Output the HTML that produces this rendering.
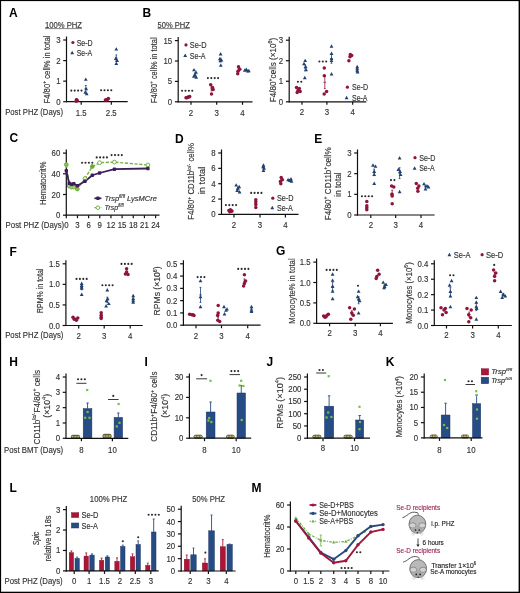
<!DOCTYPE html>
<html><head><meta charset="utf-8"><title>Figure</title>
<style>
html,body{margin:0;padding:0;background:#fff;width:520px;height:593px;overflow:hidden}
svg{display:block;font-family:"Liberation Sans",sans-serif;will-change:transform}
text{stroke:currentColor;stroke-width:0.15px}
text.L{stroke:none}
</style></head><body>
<svg width="520" height="593" viewBox="0 0 520 593">
<rect width="520" height="593" fill="#fff"/>
<text x="9" y="17" font-size="12" font-weight="bold" fill="#000" class="L">A</text>
<text x="45" y="24.6" font-size="8.5" text-anchor="start" dominant-baseline="central" fill="#333" color="#333" textLength="37" lengthAdjust="spacingAndGlyphs">100% PHZ</text>
<line x1="45" y1="28.6" x2="82" y2="28.6" stroke="#333" stroke-width="0.6" />
<line x1="66.5" y1="36.5" x2="66.5" y2="102.2" stroke="#111" stroke-width="1.2" />
<line x1="63.2" y1="40" x2="66.5" y2="40" stroke="#111" stroke-width="1.2" />
<text x="60.5" y="40" font-size="8.5" text-anchor="end" dominant-baseline="central" fill="#333" color="#333" textLength="4.35" lengthAdjust="spacingAndGlyphs">3</text>
<line x1="63.2" y1="60.57" x2="66.5" y2="60.57" stroke="#111" stroke-width="1.2" />
<text x="60.5" y="60.57" font-size="8.5" text-anchor="end" dominant-baseline="central" fill="#333" color="#333" textLength="4.35" lengthAdjust="spacingAndGlyphs">2</text>
<line x1="63.2" y1="81.13" x2="66.5" y2="81.13" stroke="#111" stroke-width="1.2" />
<text x="60.5" y="81.13" font-size="8.5" text-anchor="end" dominant-baseline="central" fill="#333" color="#333" textLength="4.35" lengthAdjust="spacingAndGlyphs">1</text>
<line x1="63.2" y1="101.7" x2="66.5" y2="101.7" stroke="#111" stroke-width="1.2" />
<text x="60.5" y="101.7" font-size="8.5" text-anchor="end" dominant-baseline="central" fill="#333" color="#333" textLength="4.35" lengthAdjust="spacingAndGlyphs">0</text>
<line x1="66" y1="101.7" x2="127.7" y2="101.7" stroke="#111" stroke-width="1.2" />
<line x1="81.2" y1="101.7" x2="81.2" y2="104.7" stroke="#111" stroke-width="1.2" />
<text x="81.2" y="112.6" font-size="8.5" text-anchor="middle" dominant-baseline="central" fill="#333" color="#333" textLength="10.87" lengthAdjust="spacingAndGlyphs">1.5</text>
<line x1="111.3" y1="101.7" x2="111.3" y2="104.7" stroke="#111" stroke-width="1.2" />
<text x="111.3" y="112.6" font-size="8.5" text-anchor="middle" dominant-baseline="central" fill="#333" color="#333" textLength="10.87" lengthAdjust="spacingAndGlyphs">2.5</text>
<text x="5.2" y="112.2" font-size="9" text-anchor="start" dominant-baseline="central" fill="#333" color="#333" textLength="57.8" lengthAdjust="spacingAndGlyphs">Post PHZ (Days)</text>
<text x="46.8" y="69.5" font-size="8.6" text-anchor="middle" dominant-baseline="central" fill="#333" color="#333" textLength="68" lengthAdjust="spacingAndGlyphs" transform="rotate(-90 46.8 69.5)">F4/80<tspan font-size="5.6" dy="-2.8">+</tspan><tspan dy="2.8"> cell% in total</tspan></text>
<circle cx="72.9" cy="42.5" r="1.6" fill="#8e1539"/>
<text x="76.7" y="42.6" font-size="8.5" text-anchor="start" dominant-baseline="central" fill="#333" color="#333" textLength="16" lengthAdjust="spacingAndGlyphs">Se-D</text>
<path d="M72.2 50.75L74.1 54.17L70.3 54.17Z" fill="#23406f"/>
<text x="76.7" y="52.7" font-size="8.5" text-anchor="start" dominant-baseline="central" fill="#333" color="#333" textLength="15.5" lengthAdjust="spacingAndGlyphs">Se-A</text>
<line x1="85.8" y1="91.93" x2="85.8" y2="85.45" stroke="#23406f" stroke-width="0.8" />
<line x1="84.5" y1="88.69" x2="87.1" y2="88.69" stroke="#23406f" stroke-width="0.8" />
<line x1="84.89" y1="91.93" x2="86.71" y2="91.93" stroke="#23406f" stroke-width="0.8" />
<line x1="84.89" y1="85.45" x2="86.71" y2="85.45" stroke="#23406f" stroke-width="0.8" />
<path d="M85.8 77.44L87.7 80.86L83.9 80.86Z" fill="#23406f"/>
<path d="M86.2 86.9L88.1 90.32L84.3 90.32Z" fill="#23406f"/>
<path d="M85.2 90.39L87.1 93.81L83.3 93.81Z" fill="#23406f"/>
<path d="M86.7 91.83L88.6 95.25L84.8 95.25Z" fill="#23406f"/>
<circle cx="76.1" cy="101.29" r="1.75" fill="#8e1539"/>
<circle cx="77.3" cy="100.67" r="1.75" fill="#8e1539"/>
<circle cx="76.7" cy="100.05" r="1.75" fill="#8e1539"/>
<circle cx="76.4" cy="99.64" r="1.75" fill="#8e1539"/>
<line x1="116.3" y1="61.1" x2="116.3" y2="54.9" stroke="#23406f" stroke-width="0.8" />
<line x1="115" y1="58" x2="117.6" y2="58" stroke="#23406f" stroke-width="0.8" />
<line x1="115.39" y1="61.1" x2="117.21" y2="61.1" stroke="#23406f" stroke-width="0.8" />
<line x1="115.39" y1="54.9" x2="117.21" y2="54.9" stroke="#23406f" stroke-width="0.8" />
<path d="M116.3 47.2L118.2 50.62L114.4 50.62Z" fill="#23406f"/>
<path d="M115.8 56.46L117.7 59.88L113.9 59.88Z" fill="#23406f"/>
<path d="M117.1 58.51L119 61.93L115.2 61.93Z" fill="#23406f"/>
<path d="M116.3 61.6L118.2 65.02L114.4 65.02Z" fill="#23406f"/>
<circle cx="105.4" cy="100.05" r="1.75" fill="#8e1539"/>
<circle cx="106.6" cy="99.64" r="1.75" fill="#8e1539"/>
<circle cx="107.6" cy="99.23" r="1.75" fill="#8e1539"/>
<circle cx="108.4" cy="98.62" r="1.75" fill="#8e1539"/>
<circle cx="71.3" cy="90.6" r="1.05" fill="#2a2a2a"/>
<circle cx="74.7" cy="90.6" r="1.05" fill="#2a2a2a"/>
<circle cx="78.1" cy="90.6" r="1.05" fill="#2a2a2a"/>
<circle cx="81.5" cy="90.6" r="1.05" fill="#2a2a2a"/>
<circle cx="101.1" cy="90.3" r="1.05" fill="#2a2a2a"/>
<circle cx="104.5" cy="90.3" r="1.05" fill="#2a2a2a"/>
<circle cx="107.9" cy="90.3" r="1.05" fill="#2a2a2a"/>
<circle cx="111.3" cy="90.3" r="1.05" fill="#2a2a2a"/>
<text x="142.5" y="17" font-size="12" font-weight="bold" fill="#000" class="L">B</text>
<text x="157.5" y="24.6" font-size="8.5" text-anchor="start" dominant-baseline="central" fill="#333" color="#333" textLength="32.3" lengthAdjust="spacingAndGlyphs">50% PHZ</text>
<line x1="157.5" y1="28.6" x2="189.8" y2="28.6" stroke="#333" stroke-width="0.6" />
<line x1="178.2" y1="37.1" x2="178.2" y2="102.3" stroke="#111" stroke-width="1.2" />
<line x1="174.9" y1="40.6" x2="178.2" y2="40.6" stroke="#111" stroke-width="1.2" />
<text x="172.2" y="40.6" font-size="8.5" text-anchor="end" dominant-baseline="central" fill="#333" color="#333" textLength="8.7" lengthAdjust="spacingAndGlyphs">15</text>
<line x1="174.9" y1="61" x2="178.2" y2="61" stroke="#111" stroke-width="1.2" />
<text x="172.2" y="61" font-size="8.5" text-anchor="end" dominant-baseline="central" fill="#333" color="#333" textLength="8.7" lengthAdjust="spacingAndGlyphs">10</text>
<line x1="174.9" y1="81.4" x2="178.2" y2="81.4" stroke="#111" stroke-width="1.2" />
<text x="172.2" y="81.4" font-size="8.5" text-anchor="end" dominant-baseline="central" fill="#333" color="#333" textLength="4.35" lengthAdjust="spacingAndGlyphs">5</text>
<line x1="174.9" y1="101.8" x2="178.2" y2="101.8" stroke="#111" stroke-width="1.2" />
<text x="172.2" y="101.8" font-size="8.5" text-anchor="end" dominant-baseline="central" fill="#333" color="#333" textLength="4.35" lengthAdjust="spacingAndGlyphs">0</text>
<line x1="177.7" y1="101.8" x2="252.5" y2="101.8" stroke="#111" stroke-width="1.2" />
<line x1="191" y1="101.8" x2="191" y2="104.8" stroke="#111" stroke-width="1.2" />
<text x="191" y="112.6" font-size="8.5" text-anchor="middle" dominant-baseline="central" fill="#333" color="#333" textLength="4.35" lengthAdjust="spacingAndGlyphs">2</text>
<line x1="216.7" y1="101.8" x2="216.7" y2="104.8" stroke="#111" stroke-width="1.2" />
<text x="216.7" y="112.6" font-size="8.5" text-anchor="middle" dominant-baseline="central" fill="#333" color="#333" textLength="4.35" lengthAdjust="spacingAndGlyphs">3</text>
<line x1="242.5" y1="101.8" x2="242.5" y2="104.8" stroke="#111" stroke-width="1.2" />
<text x="242.5" y="112.6" font-size="8.5" text-anchor="middle" dominant-baseline="central" fill="#333" color="#333" textLength="4.35" lengthAdjust="spacingAndGlyphs">4</text>
<text x="154.3" y="70.2" font-size="8.6" text-anchor="middle" dominant-baseline="central" fill="#333" color="#333" textLength="65.5" lengthAdjust="spacingAndGlyphs" transform="rotate(-90 154.3 70.2)">F4/80<tspan font-size="5.6" dy="-2.8">+</tspan><tspan dy="2.8"> cell% in total</tspan></text>
<circle cx="186" cy="44.9" r="1.6" fill="#8e1539"/>
<text x="189.8" y="45" font-size="8.5" text-anchor="start" dominant-baseline="central" fill="#333" color="#333" textLength="16.8" lengthAdjust="spacingAndGlyphs">Se-D</text>
<path d="M185.2 53.55L187.1 56.97L183.3 56.97Z" fill="#23406f"/>
<text x="189.8" y="55.5" font-size="8.5" text-anchor="start" dominant-baseline="central" fill="#333" color="#333" textLength="15.8" lengthAdjust="spacingAndGlyphs">Se-A</text>
<circle cx="186" cy="97.72" r="1.75" fill="#8e1539"/>
<circle cx="187.5" cy="97.31" r="1.75" fill="#8e1539"/>
<circle cx="189" cy="96.9" r="1.75" fill="#8e1539"/>
<circle cx="189.7" cy="96.5" r="1.75" fill="#8e1539"/>
<circle cx="187" cy="97.72" r="1.75" fill="#8e1539"/>
<line x1="195" y1="75.66" x2="195" y2="72.94" stroke="#23406f" stroke-width="0.8" />
<line x1="193.7" y1="74.3" x2="196.3" y2="74.3" stroke="#23406f" stroke-width="0.8" />
<line x1="194.09" y1="75.66" x2="195.91" y2="75.66" stroke="#23406f" stroke-width="0.8" />
<line x1="194.09" y1="72.94" x2="195.91" y2="72.94" stroke="#23406f" stroke-width="0.8" />
<path d="M194 67.92L195.9 71.34L192.1 71.34Z" fill="#23406f"/>
<path d="M196 70.37L197.9 73.79L194.1 73.79Z" fill="#23406f"/>
<path d="M195 73.23L196.9 76.65L193.1 76.65Z" fill="#23406f"/>
<path d="M193.8 74.45L195.7 77.87L191.9 77.87Z" fill="#23406f"/>
<path d="M196.2 75.27L198.1 78.69L194.3 78.69Z" fill="#23406f"/>
<line x1="211.5" y1="90.92" x2="211.5" y2="86.97" stroke="#8e1539" stroke-width="0.8" />
<line x1="210.2" y1="88.95" x2="212.8" y2="88.95" stroke="#8e1539" stroke-width="0.8" />
<line x1="210.59" y1="90.92" x2="212.41" y2="90.92" stroke="#8e1539" stroke-width="0.8" />
<line x1="210.59" y1="86.97" x2="212.41" y2="86.97" stroke="#8e1539" stroke-width="0.8" />
<circle cx="210.7" cy="84.66" r="1.75" fill="#8e1539"/>
<circle cx="212.5" cy="87.52" r="1.75" fill="#8e1539"/>
<circle cx="213.1" cy="89.56" r="1.75" fill="#8e1539"/>
<circle cx="211.5" cy="94.05" r="1.75" fill="#8e1539"/>
<line x1="220.6" y1="61.78" x2="220.6" y2="58.1" stroke="#23406f" stroke-width="0.8" />
<line x1="219.3" y1="59.94" x2="221.9" y2="59.94" stroke="#23406f" stroke-width="0.8" />
<line x1="219.69" y1="61.78" x2="221.51" y2="61.78" stroke="#23406f" stroke-width="0.8" />
<line x1="219.69" y1="58.1" x2="221.51" y2="58.1" stroke="#23406f" stroke-width="0.8" />
<path d="M220.6 52.01L222.5 55.43L218.7 55.43Z" fill="#23406f"/>
<path d="M219.8 56.91L221.7 60.33L217.9 60.33Z" fill="#23406f"/>
<path d="M221.5 58.13L223.4 61.55L219.6 61.55Z" fill="#23406f"/>
<path d="M220.3 58.95L222.2 62.37L218.4 62.37Z" fill="#23406f"/>
<path d="M220.8 63.44L222.7 66.86L218.9 66.86Z" fill="#23406f"/>
<line x1="238.5" y1="71.66" x2="238.5" y2="68.7" stroke="#8e1539" stroke-width="0.8" />
<line x1="237.2" y1="70.18" x2="239.8" y2="70.18" stroke="#8e1539" stroke-width="0.8" />
<line x1="237.59" y1="71.66" x2="239.41" y2="71.66" stroke="#8e1539" stroke-width="0.8" />
<line x1="237.59" y1="68.7" x2="239.41" y2="68.7" stroke="#8e1539" stroke-width="0.8" />
<circle cx="238.5" cy="66.71" r="1.75" fill="#8e1539"/>
<circle cx="239.8" cy="69.16" r="1.75" fill="#8e1539"/>
<circle cx="238" cy="71.2" r="1.75" fill="#8e1539"/>
<circle cx="237.7" cy="73.65" r="1.75" fill="#8e1539"/>
<line x1="246.3" y1="70.83" x2="246.3" y2="70.14" stroke="#23406f" stroke-width="0.8" />
<line x1="245" y1="70.49" x2="247.6" y2="70.49" stroke="#23406f" stroke-width="0.8" />
<line x1="245.39" y1="70.83" x2="247.21" y2="70.83" stroke="#23406f" stroke-width="0.8" />
<line x1="245.39" y1="70.14" x2="247.21" y2="70.14" stroke="#23406f" stroke-width="0.8" />
<path d="M246.3 67.52L248.2 70.94L244.4 70.94Z" fill="#23406f"/>
<path d="M244.8 68.33L246.7 71.75L242.9 71.75Z" fill="#23406f"/>
<path d="M247.8 69.15L249.7 72.57L245.9 72.57Z" fill="#23406f"/>
<path d="M248.8 68.74L250.7 72.16L246.9 72.16Z" fill="#23406f"/>
<circle cx="182.1" cy="90.8" r="1.05" fill="#2a2a2a"/>
<circle cx="185.5" cy="90.8" r="1.05" fill="#2a2a2a"/>
<circle cx="188.9" cy="90.8" r="1.05" fill="#2a2a2a"/>
<circle cx="192.3" cy="90.8" r="1.05" fill="#2a2a2a"/>
<circle cx="207.9" cy="78.1" r="1.05" fill="#2a2a2a"/>
<circle cx="211.3" cy="78.1" r="1.05" fill="#2a2a2a"/>
<circle cx="214.7" cy="78.1" r="1.05" fill="#2a2a2a"/>
<circle cx="218.1" cy="78.1" r="1.05" fill="#2a2a2a"/>
<line x1="289.2" y1="36.7" x2="289.2" y2="102.3" stroke="#111" stroke-width="1.2" />
<line x1="285.9" y1="40.2" x2="289.2" y2="40.2" stroke="#111" stroke-width="1.2" />
<text x="283.2" y="40.2" font-size="8.5" text-anchor="end" dominant-baseline="central" fill="#333" color="#333" textLength="4.35" lengthAdjust="spacingAndGlyphs">3</text>
<line x1="285.9" y1="60.73" x2="289.2" y2="60.73" stroke="#111" stroke-width="1.2" />
<text x="283.2" y="60.73" font-size="8.5" text-anchor="end" dominant-baseline="central" fill="#333" color="#333" textLength="4.35" lengthAdjust="spacingAndGlyphs">2</text>
<line x1="285.9" y1="81.27" x2="289.2" y2="81.27" stroke="#111" stroke-width="1.2" />
<text x="283.2" y="81.27" font-size="8.5" text-anchor="end" dominant-baseline="central" fill="#333" color="#333" textLength="4.35" lengthAdjust="spacingAndGlyphs">1</text>
<line x1="285.9" y1="101.8" x2="289.2" y2="101.8" stroke="#111" stroke-width="1.2" />
<text x="283.2" y="101.8" font-size="8.5" text-anchor="end" dominant-baseline="central" fill="#333" color="#333" textLength="4.35" lengthAdjust="spacingAndGlyphs">0</text>
<line x1="288.7" y1="101.8" x2="366.2" y2="101.8" stroke="#111" stroke-width="1.2" />
<line x1="302" y1="101.8" x2="302" y2="104.8" stroke="#111" stroke-width="1.2" />
<text x="302" y="112" font-size="8.5" text-anchor="middle" dominant-baseline="central" fill="#333" color="#333" textLength="4.35" lengthAdjust="spacingAndGlyphs">2</text>
<line x1="326.9" y1="101.8" x2="326.9" y2="104.8" stroke="#111" stroke-width="1.2" />
<text x="326.9" y="112" font-size="8.5" text-anchor="middle" dominant-baseline="central" fill="#333" color="#333" textLength="4.35" lengthAdjust="spacingAndGlyphs">3</text>
<line x1="352.7" y1="101.8" x2="352.7" y2="104.8" stroke="#111" stroke-width="1.2" />
<text x="352.7" y="112" font-size="8.5" text-anchor="middle" dominant-baseline="central" fill="#333" color="#333" textLength="4.35" lengthAdjust="spacingAndGlyphs">4</text>
<text x="272.5" y="70" font-size="8.6" text-anchor="middle" dominant-baseline="central" fill="#333" color="#333" textLength="64.5" lengthAdjust="spacingAndGlyphs" transform="rotate(-90 272.5 70)">F4/80<tspan font-size="5.6" dy="-2.8">+</tspan><tspan dy="2.8">cells (×10</tspan><tspan font-size="5.6" dy="-2.8">6</tspan><tspan dy="2.8">)</tspan></text>
<circle cx="347.4" cy="87.2" r="1.6" fill="#8e1539"/>
<text x="352" y="87.2" font-size="8.5" text-anchor="start" dominant-baseline="central" fill="#333" color="#333" textLength="16.2" lengthAdjust="spacingAndGlyphs">Se-D</text>
<path d="M346.6 95.85L348.5 99.27L344.7 99.27Z" fill="#23406f"/>
<text x="352" y="97.8" font-size="8.5" text-anchor="start" dominant-baseline="central" fill="#333" color="#333" textLength="15.5" lengthAdjust="spacingAndGlyphs">Se-A</text>
<circle cx="296.5" cy="87.43" r="1.75" fill="#8e1539"/>
<circle cx="299.3" cy="88.45" r="1.75" fill="#8e1539"/>
<circle cx="298" cy="90.51" r="1.75" fill="#8e1539"/>
<circle cx="300.2" cy="91.53" r="1.75" fill="#8e1539"/>
<circle cx="297.2" cy="92.56" r="1.75" fill="#8e1539"/>
<line x1="305.2" y1="70.76" x2="305.2" y2="64.91" stroke="#23406f" stroke-width="0.8" />
<line x1="303.9" y1="67.84" x2="306.5" y2="67.84" stroke="#23406f" stroke-width="0.8" />
<line x1="304.29" y1="70.76" x2="306.11" y2="70.76" stroke="#23406f" stroke-width="0.8" />
<line x1="304.29" y1="64.91" x2="306.11" y2="64.91" stroke="#23406f" stroke-width="0.8" />
<path d="M305.2 58.68L307.1 62.1L303.3 62.1Z" fill="#23406f"/>
<path d="M304 61.76L305.9 65.18L302.1 65.18Z" fill="#23406f"/>
<path d="M305.7 64.84L307.6 68.26L303.8 68.26Z" fill="#23406f"/>
<path d="M306.1 67.92L308 71.34L304.2 71.34Z" fill="#23406f"/>
<path d="M304.8 75.72L306.7 79.14L302.9 79.14Z" fill="#23406f"/>
<line x1="324.8" y1="88.57" x2="324.8" y2="76.02" stroke="#8e1539" stroke-width="0.8" />
<line x1="323.5" y1="82.29" x2="326.1" y2="82.29" stroke="#8e1539" stroke-width="0.8" />
<line x1="323.89" y1="88.57" x2="325.71" y2="88.57" stroke="#8e1539" stroke-width="0.8" />
<line x1="323.89" y1="76.02" x2="325.71" y2="76.02" stroke="#8e1539" stroke-width="0.8" />
<circle cx="324.3" cy="67.92" r="1.75" fill="#8e1539"/>
<circle cx="324.3" cy="75.72" r="1.75" fill="#8e1539"/>
<circle cx="326.6" cy="91.53" r="1.75" fill="#8e1539"/>
<circle cx="324.2" cy="94" r="1.75" fill="#8e1539"/>
<line x1="331.5" y1="63.26" x2="331.5" y2="54.1" stroke="#23406f" stroke-width="0.8" />
<line x1="330.2" y1="58.68" x2="332.8" y2="58.68" stroke="#23406f" stroke-width="0.8" />
<line x1="330.59" y1="63.26" x2="332.41" y2="63.26" stroke="#23406f" stroke-width="0.8" />
<line x1="330.59" y1="54.1" x2="332.41" y2="54.1" stroke="#23406f" stroke-width="0.8" />
<path d="M331.5 44.31L333.4 47.73L329.6 47.73Z" fill="#23406f"/>
<path d="M331.5 51.49L333.4 54.91L329.6 54.91Z" fill="#23406f"/>
<path d="M331.5 56.63L333.4 60.05L329.6 60.05Z" fill="#23406f"/>
<path d="M331.5 58.68L333.4 62.1L329.6 62.1Z" fill="#23406f"/>
<path d="M331.5 72.03L333.4 75.45L329.6 75.45Z" fill="#23406f"/>
<circle cx="350.3" cy="54.57" r="1.75" fill="#8e1539"/>
<circle cx="351.7" cy="55.6" r="1.75" fill="#8e1539"/>
<circle cx="350" cy="56.63" r="1.75" fill="#8e1539"/>
<circle cx="348.9" cy="60.73" r="1.75" fill="#8e1539"/>
<line x1="357.2" y1="70.85" x2="357.2" y2="68.58" stroke="#23406f" stroke-width="0.8" />
<line x1="355.9" y1="69.72" x2="358.5" y2="69.72" stroke="#23406f" stroke-width="0.8" />
<line x1="356.29" y1="70.85" x2="358.11" y2="70.85" stroke="#23406f" stroke-width="0.8" />
<line x1="356.29" y1="68.58" x2="358.11" y2="68.58" stroke="#23406f" stroke-width="0.8" />
<path d="M357.2 64.84L359.1 68.26L355.3 68.26Z" fill="#23406f"/>
<path d="M357.2 66.89L359.1 70.31L355.3 70.31Z" fill="#23406f"/>
<path d="M357.2 68.95L359.1 72.37L355.3 72.37Z" fill="#23406f"/>
<path d="M357.6 69.97L359.5 73.39L355.7 73.39Z" fill="#23406f"/>
<circle cx="297.9" cy="81.8" r="1.05" fill="#2a2a2a"/>
<circle cx="301.3" cy="81.8" r="1.05" fill="#2a2a2a"/>
<circle cx="319.4" cy="61.5" r="1.05" fill="#2a2a2a"/>
<circle cx="322.8" cy="61.5" r="1.05" fill="#2a2a2a"/>
<circle cx="326.2" cy="61.5" r="1.05" fill="#2a2a2a"/>
<text x="9.4" y="141.6" font-size="12" font-weight="bold" fill="#000" class="L">C</text>
<line x1="66.3" y1="149.6" x2="66.3" y2="215.7" stroke="#111" stroke-width="1.2" />
<line x1="63" y1="153.1" x2="66.3" y2="153.1" stroke="#111" stroke-width="1.2" />
<text x="60.3" y="153.1" font-size="8.5" text-anchor="end" dominant-baseline="central" fill="#333" color="#333" textLength="8.7" lengthAdjust="spacingAndGlyphs">60</text>
<line x1="63" y1="173.8" x2="66.3" y2="173.8" stroke="#111" stroke-width="1.2" />
<text x="60.3" y="173.8" font-size="8.5" text-anchor="end" dominant-baseline="central" fill="#333" color="#333" textLength="8.7" lengthAdjust="spacingAndGlyphs">40</text>
<line x1="63" y1="194.5" x2="66.3" y2="194.5" stroke="#111" stroke-width="1.2" />
<text x="60.3" y="194.5" font-size="8.5" text-anchor="end" dominant-baseline="central" fill="#333" color="#333" textLength="8.7" lengthAdjust="spacingAndGlyphs">20</text>
<line x1="63" y1="215.2" x2="66.3" y2="215.2" stroke="#111" stroke-width="1.2" />
<text x="60.3" y="215.2" font-size="8.5" text-anchor="end" dominant-baseline="central" fill="#333" color="#333" textLength="4.35" lengthAdjust="spacingAndGlyphs">0</text>
<line x1="65.8" y1="215.2" x2="159.5" y2="215.2" stroke="#111" stroke-width="1.2" />
<line x1="66.3" y1="215.2" x2="66.3" y2="218.2" stroke="#111" stroke-width="1.2" />
<text x="66.3" y="224.7" font-size="8.5" text-anchor="middle" dominant-baseline="central" fill="#333" color="#333" textLength="4.35" lengthAdjust="spacingAndGlyphs">0</text>
<line x1="77.46" y1="215.2" x2="77.46" y2="218.2" stroke="#111" stroke-width="1.2" />
<text x="77.46" y="224.7" font-size="8.5" text-anchor="middle" dominant-baseline="central" fill="#333" color="#333" textLength="4.35" lengthAdjust="spacingAndGlyphs">3</text>
<line x1="88.62" y1="215.2" x2="88.62" y2="218.2" stroke="#111" stroke-width="1.2" />
<text x="88.62" y="224.7" font-size="8.5" text-anchor="middle" dominant-baseline="central" fill="#333" color="#333" textLength="4.35" lengthAdjust="spacingAndGlyphs">6</text>
<line x1="99.78" y1="215.2" x2="99.78" y2="218.2" stroke="#111" stroke-width="1.2" />
<text x="99.78" y="224.7" font-size="8.5" text-anchor="middle" dominant-baseline="central" fill="#333" color="#333" textLength="4.35" lengthAdjust="spacingAndGlyphs">9</text>
<line x1="110.94" y1="215.2" x2="110.94" y2="218.2" stroke="#111" stroke-width="1.2" />
<text x="110.94" y="224.7" font-size="8.5" text-anchor="middle" dominant-baseline="central" fill="#333" color="#333" textLength="8.7" lengthAdjust="spacingAndGlyphs">12</text>
<line x1="122.1" y1="215.2" x2="122.1" y2="218.2" stroke="#111" stroke-width="1.2" />
<text x="122.1" y="224.7" font-size="8.5" text-anchor="middle" dominant-baseline="central" fill="#333" color="#333" textLength="8.7" lengthAdjust="spacingAndGlyphs">15</text>
<line x1="133.26" y1="215.2" x2="133.26" y2="218.2" stroke="#111" stroke-width="1.2" />
<text x="133.26" y="224.7" font-size="8.5" text-anchor="middle" dominant-baseline="central" fill="#333" color="#333" textLength="8.7" lengthAdjust="spacingAndGlyphs">18</text>
<line x1="144.42" y1="215.2" x2="144.42" y2="218.2" stroke="#111" stroke-width="1.2" />
<text x="144.42" y="224.7" font-size="8.5" text-anchor="middle" dominant-baseline="central" fill="#333" color="#333" textLength="8.7" lengthAdjust="spacingAndGlyphs">21</text>
<line x1="155.58" y1="215.2" x2="155.58" y2="218.2" stroke="#111" stroke-width="1.2" />
<text x="155.58" y="224.7" font-size="8.5" text-anchor="middle" dominant-baseline="central" fill="#333" color="#333" textLength="8.7" lengthAdjust="spacingAndGlyphs">24</text>
<text x="5.6" y="224.7" font-size="9" text-anchor="start" dominant-baseline="central" fill="#333" color="#333" textLength="58.6" lengthAdjust="spacingAndGlyphs">Post PHZ (Days)</text>
<text x="42.9" y="183.3" font-size="8.9" text-anchor="middle" dominant-baseline="central" fill="#333" color="#333" textLength="43.6" lengthAdjust="spacingAndGlyphs" transform="rotate(-90 42.9 183.3)">Hematocrit%</text>
<polyline points="66.3,164.6 69.2,186 71.5,187.2 73.8,187 77.3,189 85,178.5 92.3,166.5 99.6,162.7 114.4,162.1 147.9,165" fill="none" stroke="#78b043" stroke-width="1.4" stroke-dasharray="3.2 1.6"/>
<polyline points="66.3,170.8 69.2,183.3 71.5,184.2 73.8,183.8 77.3,185.8 85,181.3 92.3,175.2 99.6,173 114.4,169.2 147.9,168.5" fill="none" stroke="#3a1d5a" stroke-width="1.8"/>
<circle cx="66.3" cy="164.6" r="1.9" fill="#8dbb5a" stroke="#78b043" stroke-width="1"/>
<circle cx="69.2" cy="186" r="1.9" fill="#a8cc88" stroke="#78b043" stroke-width="1"/>
<circle cx="71.5" cy="187.2" r="1.9" fill="#a8cc88" stroke="#78b043" stroke-width="1"/>
<circle cx="73.8" cy="187" r="1.9" fill="#a8cc88" stroke="#78b043" stroke-width="1"/>
<circle cx="77.3" cy="189" r="1.9" fill="#8dbb5a" stroke="#78b043" stroke-width="1"/>
<circle cx="85" cy="178.5" r="1.9" fill="#e8f2dc" stroke="#78b043" stroke-width="1"/>
<circle cx="92.3" cy="166.5" r="1.9" fill="#6fa23e" stroke="#78b043" stroke-width="1"/>
<circle cx="99.6" cy="162.7" r="1.9" fill="#fff" stroke="#78b043" stroke-width="1"/>
<circle cx="114.4" cy="162.1" r="1.9" fill="#fff" stroke="#78b043" stroke-width="1"/>
<circle cx="147.9" cy="165" r="1.9" fill="#fff" stroke="#78b043" stroke-width="1"/>
<rect x="64.6" y="169.1" width="3.4" height="3.4" rx="0.9" fill="#3a1d5a"/>
<rect x="67.5" y="181.6" width="3.4" height="3.4" rx="0.9" fill="#3a1d5a"/>
<rect x="69.8" y="182.5" width="3.4" height="3.4" rx="0.9" fill="#3a1d5a"/>
<rect x="72.1" y="182.1" width="3.4" height="3.4" rx="0.9" fill="#3a1d5a"/>
<rect x="75.6" y="184.1" width="3.4" height="3.4" rx="0.9" fill="#3a1d5a"/>
<rect x="83.3" y="179.6" width="3.4" height="3.4" rx="0.9" fill="#3a1d5a"/>
<rect x="90.6" y="173.5" width="3.4" height="3.4" rx="0.9" fill="#3a1d5a"/>
<rect x="97.9" y="171.3" width="3.4" height="3.4" rx="0.9" fill="#3a1d5a"/>
<rect x="112.7" y="167.5" width="3.4" height="3.4" rx="0.9" fill="#3a1d5a"/>
<rect x="146.2" y="166.8" width="3.4" height="3.4" rx="0.9" fill="#3a1d5a"/>
<circle cx="82.1" cy="162.8" r="1.05" fill="#2a2a2a"/>
<circle cx="85.5" cy="162.8" r="1.05" fill="#2a2a2a"/>
<circle cx="88.9" cy="162.8" r="1.05" fill="#2a2a2a"/>
<circle cx="92.3" cy="162.8" r="1.05" fill="#2a2a2a"/>
<circle cx="96.7" cy="157.4" r="1.05" fill="#2a2a2a"/>
<circle cx="100.1" cy="157.4" r="1.05" fill="#2a2a2a"/>
<circle cx="103.5" cy="157.4" r="1.05" fill="#2a2a2a"/>
<circle cx="106.9" cy="157.4" r="1.05" fill="#2a2a2a"/>
<circle cx="111.6" cy="155.1" r="1.05" fill="#2a2a2a"/>
<circle cx="115" cy="155.1" r="1.05" fill="#2a2a2a"/>
<circle cx="118.4" cy="155.1" r="1.05" fill="#2a2a2a"/>
<circle cx="121.8" cy="155.1" r="1.05" fill="#2a2a2a"/>
<line x1="94.4" y1="198.3" x2="101.4" y2="198.3" stroke="#3a1d5a" stroke-width="1.7" />
<rect x="96.2" y="196.6" width="3.4" height="3.4" rx="0.9" fill="#3a1d5a"/>
<text x="104.6" y="198.3" font-size="7.6" text-anchor="start" dominant-baseline="central" fill="#333" color="#333" font-style="italic" textLength="52.4" lengthAdjust="spacingAndGlyphs">Trsp<tspan font-size="4.6" dy="-2.6">fl/fl</tspan><tspan dy="2.6"> LysMCre</tspan></text>
<line x1="94.4" y1="207.7" x2="101.4" y2="207.7" stroke="#78b043" stroke-width="1.3" stroke-dasharray="2 1.2"/>
<circle cx="97.9" cy="207.7" r="1.8" fill="#fff" stroke="#78b043" stroke-width="1"/>
<text x="104.6" y="207.7" font-size="7.6" text-anchor="start" dominant-baseline="central" fill="#333" color="#333" font-style="italic" textLength="19" lengthAdjust="spacingAndGlyphs">Trsp<tspan font-size="4.6" dy="-2.6">fl/fl</tspan></text>
<text x="175" y="142.7" font-size="12" font-weight="bold" fill="#000" class="L">D</text>
<line x1="221.5" y1="149.5" x2="221.5" y2="214.9" stroke="#111" stroke-width="1.2" />
<line x1="218.2" y1="153" x2="221.5" y2="153" stroke="#111" stroke-width="1.2" />
<text x="215.5" y="153" font-size="8.5" text-anchor="end" dominant-baseline="central" fill="#333" color="#333" textLength="4.35" lengthAdjust="spacingAndGlyphs">8</text>
<line x1="218.2" y1="168.35" x2="221.5" y2="168.35" stroke="#111" stroke-width="1.2" />
<text x="215.5" y="168.35" font-size="8.5" text-anchor="end" dominant-baseline="central" fill="#333" color="#333" textLength="4.35" lengthAdjust="spacingAndGlyphs">6</text>
<line x1="218.2" y1="183.7" x2="221.5" y2="183.7" stroke="#111" stroke-width="1.2" />
<text x="215.5" y="183.7" font-size="8.5" text-anchor="end" dominant-baseline="central" fill="#333" color="#333" textLength="4.35" lengthAdjust="spacingAndGlyphs">4</text>
<line x1="218.2" y1="199.05" x2="221.5" y2="199.05" stroke="#111" stroke-width="1.2" />
<text x="215.5" y="199.05" font-size="8.5" text-anchor="end" dominant-baseline="central" fill="#333" color="#333" textLength="4.35" lengthAdjust="spacingAndGlyphs">2</text>
<line x1="218.2" y1="214.4" x2="221.5" y2="214.4" stroke="#111" stroke-width="1.2" />
<text x="215.5" y="214.4" font-size="8.5" text-anchor="end" dominant-baseline="central" fill="#333" color="#333" textLength="4.35" lengthAdjust="spacingAndGlyphs">0</text>
<line x1="221" y1="214.4" x2="298.5" y2="214.4" stroke="#111" stroke-width="1.2" />
<line x1="234" y1="214.4" x2="234" y2="217.4" stroke="#111" stroke-width="1.2" />
<text x="234" y="225" font-size="8.5" text-anchor="middle" dominant-baseline="central" fill="#333" color="#333" textLength="4.35" lengthAdjust="spacingAndGlyphs">2</text>
<line x1="260" y1="214.4" x2="260" y2="217.4" stroke="#111" stroke-width="1.2" />
<text x="260" y="225" font-size="8.5" text-anchor="middle" dominant-baseline="central" fill="#333" color="#333" textLength="4.35" lengthAdjust="spacingAndGlyphs">3</text>
<line x1="285.4" y1="214.4" x2="285.4" y2="217.4" stroke="#111" stroke-width="1.2" />
<text x="285.4" y="225" font-size="8.5" text-anchor="middle" dominant-baseline="central" fill="#333" color="#333" textLength="4.35" lengthAdjust="spacingAndGlyphs">4</text>
<text x="191.4" y="181.3" font-size="8.6" text-anchor="middle" dominant-baseline="central" fill="#333" color="#333" textLength="76.7" lengthAdjust="spacingAndGlyphs" transform="rotate(-90 191.4 181.3)">F4/80<tspan font-size="5.6" dy="-2.8">+</tspan><tspan dy="2.8"> CD11b</tspan><tspan font-size="5.6" dy="-2.8">lo/-</tspan><tspan dy="2.8"> cell%</tspan></text>
<text x="202.4" y="180.5" font-size="8.8" text-anchor="middle" dominant-baseline="central" fill="#333" color="#333" textLength="27.5" lengthAdjust="spacingAndGlyphs" transform="rotate(-90 202.4 180.5)">in total</text>
<circle cx="272.8" cy="198.2" r="1.6" fill="#8e1539"/>
<text x="276.9" y="198.2" font-size="8.5" text-anchor="start" dominant-baseline="central" fill="#333" color="#333" textLength="16.6" lengthAdjust="spacingAndGlyphs">Se-D</text>
<path d="M272.3 205.85L274.2 209.27L270.4 209.27Z" fill="#23406f"/>
<text x="276.9" y="207.8" font-size="8.5" text-anchor="start" dominant-baseline="central" fill="#333" color="#333" textLength="15.8" lengthAdjust="spacingAndGlyphs">Se-A</text>
<circle cx="230.4" cy="209.8" r="1.75" fill="#8e1539"/>
<circle cx="228.9" cy="210.56" r="1.75" fill="#8e1539"/>
<circle cx="232" cy="210.95" r="1.75" fill="#8e1539"/>
<circle cx="231.2" cy="211.33" r="1.75" fill="#8e1539"/>
<circle cx="229.8" cy="211.71" r="1.75" fill="#8e1539"/>
<line x1="238" y1="189.86" x2="238" y2="187.36" stroke="#23406f" stroke-width="0.8" />
<line x1="236.7" y1="188.61" x2="239.3" y2="188.61" stroke="#23406f" stroke-width="0.8" />
<line x1="237.09" y1="189.86" x2="238.91" y2="189.86" stroke="#23406f" stroke-width="0.8" />
<line x1="237.09" y1="187.36" x2="238.91" y2="187.36" stroke="#23406f" stroke-width="0.8" />
<path d="M236.2 183.18L238.1 186.6L234.3 186.6Z" fill="#23406f"/>
<path d="M239.2 184.72L241.1 188.14L237.3 188.14Z" fill="#23406f"/>
<path d="M237.8 186.25L239.7 189.67L235.9 189.67Z" fill="#23406f"/>
<path d="M237.2 188.56L239.1 191.98L235.3 191.98Z" fill="#23406f"/>
<path d="M239.6 190.09L241.5 193.51L237.7 193.51Z" fill="#23406f"/>
<line x1="255.8" y1="205.1" x2="255.8" y2="201.82" stroke="#8e1539" stroke-width="0.8" />
<line x1="254.5" y1="203.46" x2="257.1" y2="203.46" stroke="#8e1539" stroke-width="0.8" />
<line x1="254.89" y1="205.1" x2="256.71" y2="205.1" stroke="#8e1539" stroke-width="0.8" />
<line x1="254.89" y1="201.82" x2="256.71" y2="201.82" stroke="#8e1539" stroke-width="0.8" />
<circle cx="255.8" cy="199.82" r="1.75" fill="#8e1539"/>
<circle cx="255.8" cy="202.12" r="1.75" fill="#8e1539"/>
<circle cx="255.8" cy="204.42" r="1.75" fill="#8e1539"/>
<circle cx="255.8" cy="207.49" r="1.75" fill="#8e1539"/>
<line x1="263.5" y1="168.92" x2="263.5" y2="166.63" stroke="#23406f" stroke-width="0.8" />
<line x1="262.2" y1="167.77" x2="264.8" y2="167.77" stroke="#23406f" stroke-width="0.8" />
<line x1="262.59" y1="168.92" x2="264.41" y2="168.92" stroke="#23406f" stroke-width="0.8" />
<line x1="262.59" y1="166.63" x2="264.41" y2="166.63" stroke="#23406f" stroke-width="0.8" />
<path d="M263.5 163.23L265.4 166.65L261.6 166.65Z" fill="#23406f"/>
<path d="M263.1 164.76L265 168.18L261.2 168.18Z" fill="#23406f"/>
<path d="M264.1 166.3L266 169.72L262.2 169.72Z" fill="#23406f"/>
<path d="M263.5 168.6L265.4 172.02L261.6 172.02Z" fill="#23406f"/>
<line x1="281.2" y1="181.92" x2="281.2" y2="179.34" stroke="#8e1539" stroke-width="0.8" />
<line x1="279.9" y1="180.63" x2="282.5" y2="180.63" stroke="#8e1539" stroke-width="0.8" />
<line x1="280.29" y1="181.92" x2="282.11" y2="181.92" stroke="#8e1539" stroke-width="0.8" />
<line x1="280.29" y1="179.34" x2="282.11" y2="179.34" stroke="#8e1539" stroke-width="0.8" />
<circle cx="281.2" cy="177.56" r="1.75" fill="#8e1539"/>
<circle cx="282.4" cy="179.86" r="1.75" fill="#8e1539"/>
<circle cx="280.4" cy="181.4" r="1.75" fill="#8e1539"/>
<circle cx="280.8" cy="183.7" r="1.75" fill="#8e1539"/>
<line x1="289.5" y1="180.74" x2="289.5" y2="179.75" stroke="#23406f" stroke-width="0.8" />
<line x1="288.2" y1="180.25" x2="290.8" y2="180.25" stroke="#23406f" stroke-width="0.8" />
<line x1="288.59" y1="180.74" x2="290.41" y2="180.74" stroke="#23406f" stroke-width="0.8" />
<line x1="288.59" y1="179.75" x2="290.41" y2="179.75" stroke="#23406f" stroke-width="0.8" />
<path d="M291 177.04L292.9 180.46L289.1 180.46Z" fill="#23406f"/>
<path d="M288.1 177.81L290 181.23L286.2 181.23Z" fill="#23406f"/>
<path d="M289.9 178.58L291.8 182L288 182Z" fill="#23406f"/>
<path d="M291.5 179.35L293.4 182.77L289.6 182.77Z" fill="#23406f"/>
<circle cx="225.9" cy="205.1" r="1.05" fill="#2a2a2a"/>
<circle cx="229.3" cy="205.1" r="1.05" fill="#2a2a2a"/>
<circle cx="232.7" cy="205.1" r="1.05" fill="#2a2a2a"/>
<circle cx="236.1" cy="205.1" r="1.05" fill="#2a2a2a"/>
<circle cx="251.2" cy="192.9" r="1.05" fill="#2a2a2a"/>
<circle cx="254.6" cy="192.9" r="1.05" fill="#2a2a2a"/>
<circle cx="258" cy="192.9" r="1.05" fill="#2a2a2a"/>
<circle cx="261.4" cy="192.9" r="1.05" fill="#2a2a2a"/>
<text x="314.2" y="142.7" font-size="12" font-weight="bold" fill="#000" class="L">E</text>
<line x1="357.5" y1="149.5" x2="357.5" y2="215.5" stroke="#111" stroke-width="1.2" />
<line x1="354.2" y1="153" x2="357.5" y2="153" stroke="#111" stroke-width="1.2" />
<text x="351.5" y="153" font-size="8.5" text-anchor="end" dominant-baseline="central" fill="#333" color="#333" textLength="4.35" lengthAdjust="spacingAndGlyphs">3</text>
<line x1="354.2" y1="173.67" x2="357.5" y2="173.67" stroke="#111" stroke-width="1.2" />
<text x="351.5" y="173.67" font-size="8.5" text-anchor="end" dominant-baseline="central" fill="#333" color="#333" textLength="4.35" lengthAdjust="spacingAndGlyphs">2</text>
<line x1="354.2" y1="194.33" x2="357.5" y2="194.33" stroke="#111" stroke-width="1.2" />
<text x="351.5" y="194.33" font-size="8.5" text-anchor="end" dominant-baseline="central" fill="#333" color="#333" textLength="4.35" lengthAdjust="spacingAndGlyphs">1</text>
<line x1="354.2" y1="215" x2="357.5" y2="215" stroke="#111" stroke-width="1.2" />
<text x="351.5" y="215" font-size="8.5" text-anchor="end" dominant-baseline="central" fill="#333" color="#333" textLength="4.35" lengthAdjust="spacingAndGlyphs">0</text>
<line x1="357" y1="215" x2="434.6" y2="215" stroke="#111" stroke-width="1.2" />
<line x1="370.8" y1="215" x2="370.8" y2="218" stroke="#111" stroke-width="1.2" />
<text x="370.8" y="225" font-size="8.5" text-anchor="middle" dominant-baseline="central" fill="#333" color="#333" textLength="4.35" lengthAdjust="spacingAndGlyphs">2</text>
<line x1="395.7" y1="215" x2="395.7" y2="218" stroke="#111" stroke-width="1.2" />
<text x="395.7" y="225" font-size="8.5" text-anchor="middle" dominant-baseline="central" fill="#333" color="#333" textLength="4.35" lengthAdjust="spacingAndGlyphs">3</text>
<line x1="421" y1="215" x2="421" y2="218" stroke="#111" stroke-width="1.2" />
<text x="421" y="225" font-size="8.5" text-anchor="middle" dominant-baseline="central" fill="#333" color="#333" textLength="4.35" lengthAdjust="spacingAndGlyphs">4</text>
<text x="327.9" y="183.7" font-size="8.6" text-anchor="middle" dominant-baseline="central" fill="#333" color="#333" textLength="73" lengthAdjust="spacingAndGlyphs" transform="rotate(-90 327.9 183.7)">F4/80<tspan font-size="5.6" dy="-2.8">+</tspan><tspan dy="2.8"> CD11b</tspan><tspan font-size="5.6" dy="-2.8">+</tspan><tspan dy="2.8">cell%</tspan></text>
<text x="338.2" y="184.5" font-size="8.8" text-anchor="middle" dominant-baseline="central" fill="#333" color="#333" textLength="24.3" lengthAdjust="spacingAndGlyphs" transform="rotate(-90 338.2 184.5)">in total</text>
<circle cx="415" cy="157.7" r="1.6" fill="#8e1539"/>
<text x="419.2" y="157.7" font-size="8.5" text-anchor="start" dominant-baseline="central" fill="#333" color="#333" textLength="16.2" lengthAdjust="spacingAndGlyphs">Se-D</text>
<path d="M414.6 166.35L416.5 169.77L412.7 169.77Z" fill="#23406f"/>
<text x="419.2" y="168.3" font-size="8.5" text-anchor="start" dominant-baseline="central" fill="#333" color="#333" textLength="15.5" lengthAdjust="spacingAndGlyphs">Se-A</text>
<circle cx="366.8" cy="201.57" r="1.75" fill="#8e1539"/>
<circle cx="366.8" cy="205.7" r="1.75" fill="#8e1539"/>
<circle cx="366.8" cy="207.77" r="1.75" fill="#8e1539"/>
<circle cx="366.8" cy="209.63" r="1.75" fill="#8e1539"/>
<line x1="374.2" y1="175.63" x2="374.2" y2="169.06" stroke="#23406f" stroke-width="0.8" />
<line x1="372.9" y1="172.34" x2="375.5" y2="172.34" stroke="#23406f" stroke-width="0.8" />
<line x1="373.29" y1="175.63" x2="375.11" y2="175.63" stroke="#23406f" stroke-width="0.8" />
<line x1="373.29" y1="169.06" x2="375.11" y2="169.06" stroke="#23406f" stroke-width="0.8" />
<path d="M373 163.35L374.9 166.77L371.1 166.77Z" fill="#23406f"/>
<path d="M375.5 164.38L377.4 167.8L373.6 167.8Z" fill="#23406f"/>
<path d="M374.2 169.55L376.1 172.97L372.3 172.97Z" fill="#23406f"/>
<path d="M374.2 172.65L376.1 176.07L372.3 176.07Z" fill="#23406f"/>
<path d="M374.2 181.53L376.1 184.95L372.3 184.95Z" fill="#23406f"/>
<line x1="392.2" y1="196.63" x2="392.2" y2="190.22" stroke="#8e1539" stroke-width="0.8" />
<line x1="390.9" y1="193.42" x2="393.5" y2="193.42" stroke="#8e1539" stroke-width="0.8" />
<line x1="391.29" y1="196.63" x2="393.11" y2="196.63" stroke="#8e1539" stroke-width="0.8" />
<line x1="391.29" y1="190.22" x2="393.11" y2="190.22" stroke="#8e1539" stroke-width="0.8" />
<circle cx="391.6" cy="186.07" r="1.75" fill="#8e1539"/>
<circle cx="393.8" cy="187.1" r="1.75" fill="#8e1539"/>
<circle cx="391.9" cy="194.33" r="1.75" fill="#8e1539"/>
<circle cx="392.2" cy="195.99" r="1.75" fill="#8e1539"/>
<circle cx="392.2" cy="203.63" r="1.75" fill="#8e1539"/>
<line x1="399.6" y1="178.61" x2="399.6" y2="167.73" stroke="#23406f" stroke-width="0.8" />
<line x1="398.3" y1="173.17" x2="400.9" y2="173.17" stroke="#23406f" stroke-width="0.8" />
<line x1="398.69" y1="178.61" x2="400.51" y2="178.61" stroke="#23406f" stroke-width="0.8" />
<line x1="398.69" y1="167.73" x2="400.51" y2="167.73" stroke="#23406f" stroke-width="0.8" />
<path d="M399.6 156.11L401.5 159.53L397.7 159.53Z" fill="#23406f"/>
<path d="M398.4 167.48L400.3 170.9L396.5 170.9Z" fill="#23406f"/>
<path d="M400.1 169.55L402 172.97L398.2 172.97Z" fill="#23406f"/>
<path d="M400.6 172.65L402.5 176.07L398.7 176.07Z" fill="#23406f"/>
<path d="M399.6 189.8L401.5 193.22L397.7 193.22Z" fill="#23406f"/>
<circle cx="416.3" cy="183.38" r="1.75" fill="#8e1539"/>
<circle cx="418.9" cy="186.07" r="1.75" fill="#8e1539"/>
<circle cx="417.7" cy="188.13" r="1.75" fill="#8e1539"/>
<circle cx="417.9" cy="191.23" r="1.75" fill="#8e1539"/>
<line x1="425.5" y1="187.66" x2="425.5" y2="185.51" stroke="#23406f" stroke-width="0.8" />
<line x1="424.2" y1="186.58" x2="426.8" y2="186.58" stroke="#23406f" stroke-width="0.8" />
<line x1="424.59" y1="187.66" x2="426.41" y2="187.66" stroke="#23406f" stroke-width="0.8" />
<line x1="424.59" y1="185.51" x2="426.41" y2="185.51" stroke="#23406f" stroke-width="0.8" />
<path d="M424 181.95L425.9 185.37L422.1 185.37Z" fill="#23406f"/>
<path d="M427 184.01L428.9 187.43L425.1 187.43Z" fill="#23406f"/>
<path d="M428.5 185.05L430.4 188.47L426.6 188.47Z" fill="#23406f"/>
<path d="M425.5 187.11L427.4 190.53L423.6 190.53Z" fill="#23406f"/>
<circle cx="361.9" cy="196.3" r="1.05" fill="#2a2a2a"/>
<circle cx="365.3" cy="196.3" r="1.05" fill="#2a2a2a"/>
<circle cx="368.7" cy="196.3" r="1.05" fill="#2a2a2a"/>
<circle cx="372.1" cy="196.3" r="1.05" fill="#2a2a2a"/>
<circle cx="391" cy="180.1" r="1.05" fill="#2a2a2a"/>
<circle cx="394.4" cy="180.1" r="1.05" fill="#2a2a2a"/>
<text x="9.5" y="255.7" font-size="12" font-weight="bold" fill="#000" class="L">F</text>
<line x1="65.9" y1="260.3" x2="65.9" y2="326" stroke="#111" stroke-width="1.2" />
<line x1="62.6" y1="263.8" x2="65.9" y2="263.8" stroke="#111" stroke-width="1.2" />
<text x="59.9" y="263.8" font-size="8.5" text-anchor="end" dominant-baseline="central" fill="#333" color="#333" textLength="10.87" lengthAdjust="spacingAndGlyphs">1.5</text>
<line x1="62.6" y1="284.37" x2="65.9" y2="284.37" stroke="#111" stroke-width="1.2" />
<text x="59.9" y="284.37" font-size="8.5" text-anchor="end" dominant-baseline="central" fill="#333" color="#333" textLength="10.87" lengthAdjust="spacingAndGlyphs">1.0</text>
<line x1="62.6" y1="304.93" x2="65.9" y2="304.93" stroke="#111" stroke-width="1.2" />
<text x="59.9" y="304.93" font-size="8.5" text-anchor="end" dominant-baseline="central" fill="#333" color="#333" textLength="10.87" lengthAdjust="spacingAndGlyphs">0.5</text>
<line x1="62.6" y1="325.5" x2="65.9" y2="325.5" stroke="#111" stroke-width="1.2" />
<text x="59.9" y="325.5" font-size="8.5" text-anchor="end" dominant-baseline="central" fill="#333" color="#333" textLength="10.87" lengthAdjust="spacingAndGlyphs">0.0</text>
<line x1="65.4" y1="325.5" x2="142.7" y2="325.5" stroke="#111" stroke-width="1.2" />
<line x1="78.7" y1="325.5" x2="78.7" y2="328.5" stroke="#111" stroke-width="1.2" />
<text x="78.7" y="335.5" font-size="8.5" text-anchor="middle" dominant-baseline="central" fill="#333" color="#333" textLength="4.35" lengthAdjust="spacingAndGlyphs">2</text>
<line x1="104.2" y1="325.5" x2="104.2" y2="328.5" stroke="#111" stroke-width="1.2" />
<text x="104.2" y="335.5" font-size="8.5" text-anchor="middle" dominant-baseline="central" fill="#333" color="#333" textLength="4.35" lengthAdjust="spacingAndGlyphs">3</text>
<line x1="130.2" y1="325.5" x2="130.2" y2="328.5" stroke="#111" stroke-width="1.2" />
<text x="130.2" y="335.5" font-size="8.5" text-anchor="middle" dominant-baseline="central" fill="#333" color="#333" textLength="4.35" lengthAdjust="spacingAndGlyphs">4</text>
<text x="5.2" y="335.4" font-size="9" text-anchor="start" dominant-baseline="central" fill="#333" color="#333" textLength="58.2" lengthAdjust="spacingAndGlyphs">Post PHZ (Days)</text>
<text x="40.1" y="290.8" font-size="8.8" text-anchor="middle" dominant-baseline="central" fill="#333" color="#333" textLength="44.4" lengthAdjust="spacingAndGlyphs" transform="rotate(-90 40.1 290.8)">RPM% in total</text>
<circle cx="73" cy="317.27" r="1.75" fill="#8e1539"/>
<circle cx="77.8" cy="318.1" r="1.75" fill="#8e1539"/>
<circle cx="75.2" cy="319.33" r="1.75" fill="#8e1539"/>
<circle cx="74.2" cy="319.33" r="1.75" fill="#8e1539"/>
<circle cx="76.4" cy="320.15" r="1.75" fill="#8e1539"/>
<line x1="81.7" y1="289.78" x2="81.7" y2="286.03" stroke="#23406f" stroke-width="0.8" />
<line x1="80.4" y1="287.9" x2="83" y2="287.9" stroke="#23406f" stroke-width="0.8" />
<line x1="80.79" y1="289.78" x2="82.61" y2="289.78" stroke="#23406f" stroke-width="0.8" />
<line x1="80.79" y1="286.03" x2="82.61" y2="286.03" stroke="#23406f" stroke-width="0.8" />
<path d="M81.7 281.49L83.6 284.91L79.8 284.91Z" fill="#23406f"/>
<path d="M81.7 283.55L83.6 286.97L79.8 286.97Z" fill="#23406f"/>
<path d="M81.7 285.19L83.6 288.61L79.8 288.61Z" fill="#23406f"/>
<path d="M81.7 286.43L83.6 289.85L79.8 289.85Z" fill="#23406f"/>
<path d="M81.7 292.6L83.6 296.02L79.8 296.02Z" fill="#23406f"/>
<circle cx="101.2" cy="312.75" r="1.75" fill="#8e1539"/>
<circle cx="101.2" cy="315.22" r="1.75" fill="#8e1539"/>
<circle cx="101.2" cy="317.27" r="1.75" fill="#8e1539"/>
<circle cx="101.2" cy="318.51" r="1.75" fill="#8e1539"/>
<line x1="107.3" y1="302.67" x2="107.3" y2="297.16" stroke="#23406f" stroke-width="0.8" />
<line x1="106" y1="299.92" x2="108.6" y2="299.92" stroke="#23406f" stroke-width="0.8" />
<line x1="106.39" y1="302.67" x2="108.21" y2="302.67" stroke="#23406f" stroke-width="0.8" />
<line x1="106.39" y1="297.16" x2="108.21" y2="297.16" stroke="#23406f" stroke-width="0.8" />
<path d="M107.3 288.07L109.2 291.49L105.4 291.49Z" fill="#23406f"/>
<path d="M107.7 296.71L109.6 300.13L105.8 300.13Z" fill="#23406f"/>
<path d="M106.5 298.77L108.4 302.19L104.6 302.19Z" fill="#23406f"/>
<path d="M108.8 301.65L110.7 305.07L106.9 305.07Z" fill="#23406f"/>
<path d="M106.1 304.12L108 307.54L104.2 307.54Z" fill="#23406f"/>
<circle cx="126.6" cy="268.74" r="1.75" fill="#8e1539"/>
<circle cx="126.6" cy="272.03" r="1.75" fill="#8e1539"/>
<circle cx="125.4" cy="274.08" r="1.75" fill="#8e1539"/>
<circle cx="128" cy="274.49" r="1.75" fill="#8e1539"/>
<line x1="133.2" y1="300.9" x2="133.2" y2="298.06" stroke="#23406f" stroke-width="0.8" />
<line x1="131.9" y1="299.48" x2="134.5" y2="299.48" stroke="#23406f" stroke-width="0.8" />
<line x1="132.29" y1="300.9" x2="134.11" y2="300.9" stroke="#23406f" stroke-width="0.8" />
<line x1="132.29" y1="298.06" x2="134.11" y2="298.06" stroke="#23406f" stroke-width="0.8" />
<path d="M133.2 293.83L135.1 297.25L131.3 297.25Z" fill="#23406f"/>
<path d="M133.2 296.71L135.1 300.13L131.3 300.13Z" fill="#23406f"/>
<path d="M133.2 298.77L135.1 302.19L131.3 302.19Z" fill="#23406f"/>
<path d="M133.2 300.41L135.1 303.83L131.3 303.83Z" fill="#23406f"/>
<circle cx="76.5" cy="278.9" r="1.05" fill="#2a2a2a"/>
<circle cx="79.9" cy="278.9" r="1.05" fill="#2a2a2a"/>
<circle cx="83.3" cy="278.9" r="1.05" fill="#2a2a2a"/>
<circle cx="86.7" cy="278.9" r="1.05" fill="#2a2a2a"/>
<circle cx="102.4" cy="285.3" r="1.05" fill="#2a2a2a"/>
<circle cx="105.8" cy="285.3" r="1.05" fill="#2a2a2a"/>
<circle cx="109.2" cy="285.3" r="1.05" fill="#2a2a2a"/>
<circle cx="112.6" cy="285.3" r="1.05" fill="#2a2a2a"/>
<circle cx="121.5" cy="263.9" r="1.05" fill="#2a2a2a"/>
<circle cx="124.9" cy="263.9" r="1.05" fill="#2a2a2a"/>
<circle cx="128.3" cy="263.9" r="1.05" fill="#2a2a2a"/>
<circle cx="131.7" cy="263.9" r="1.05" fill="#2a2a2a"/>
<line x1="183.4" y1="260.3" x2="183.4" y2="325.7" stroke="#111" stroke-width="1.2" />
<line x1="180.1" y1="263.8" x2="183.4" y2="263.8" stroke="#111" stroke-width="1.2" />
<text x="177.4" y="263.8" font-size="8.5" text-anchor="end" dominant-baseline="central" fill="#333" color="#333" textLength="10.87" lengthAdjust="spacingAndGlyphs">0.5</text>
<line x1="180.1" y1="276.08" x2="183.4" y2="276.08" stroke="#111" stroke-width="1.2" />
<text x="177.4" y="276.08" font-size="8.5" text-anchor="end" dominant-baseline="central" fill="#333" color="#333" textLength="10.87" lengthAdjust="spacingAndGlyphs">0.4</text>
<line x1="180.1" y1="288.36" x2="183.4" y2="288.36" stroke="#111" stroke-width="1.2" />
<text x="177.4" y="288.36" font-size="8.5" text-anchor="end" dominant-baseline="central" fill="#333" color="#333" textLength="10.87" lengthAdjust="spacingAndGlyphs">0.3</text>
<line x1="180.1" y1="300.64" x2="183.4" y2="300.64" stroke="#111" stroke-width="1.2" />
<text x="177.4" y="300.64" font-size="8.5" text-anchor="end" dominant-baseline="central" fill="#333" color="#333" textLength="10.87" lengthAdjust="spacingAndGlyphs">0.2</text>
<line x1="180.1" y1="312.92" x2="183.4" y2="312.92" stroke="#111" stroke-width="1.2" />
<text x="177.4" y="312.92" font-size="8.5" text-anchor="end" dominant-baseline="central" fill="#333" color="#333" textLength="10.87" lengthAdjust="spacingAndGlyphs">0.1</text>
<line x1="180.1" y1="325.2" x2="183.4" y2="325.2" stroke="#111" stroke-width="1.2" />
<text x="177.4" y="325.2" font-size="8.5" text-anchor="end" dominant-baseline="central" fill="#333" color="#333" textLength="10.87" lengthAdjust="spacingAndGlyphs">0.0</text>
<line x1="182.9" y1="325.2" x2="260.6" y2="325.2" stroke="#111" stroke-width="1.2" />
<line x1="196" y1="325.2" x2="196" y2="328.2" stroke="#111" stroke-width="1.2" />
<text x="196" y="335.6" font-size="8.5" text-anchor="middle" dominant-baseline="central" fill="#333" color="#333" textLength="4.35" lengthAdjust="spacingAndGlyphs">2</text>
<line x1="221.5" y1="325.2" x2="221.5" y2="328.2" stroke="#111" stroke-width="1.2" />
<text x="221.5" y="335.6" font-size="8.5" text-anchor="middle" dominant-baseline="central" fill="#333" color="#333" textLength="4.35" lengthAdjust="spacingAndGlyphs">3</text>
<line x1="247.7" y1="325.2" x2="247.7" y2="328.2" stroke="#111" stroke-width="1.2" />
<text x="247.7" y="335.6" font-size="8.5" text-anchor="middle" dominant-baseline="central" fill="#333" color="#333" textLength="4.35" lengthAdjust="spacingAndGlyphs">4</text>
<text x="157.5" y="290.9" font-size="8.8" text-anchor="middle" dominant-baseline="central" fill="#333" color="#333" textLength="49" lengthAdjust="spacingAndGlyphs" transform="rotate(-90 157.5 290.9)">RPMs (×10<tspan font-size="5.6" dy="-2.8">6</tspan><tspan dy="2.8">)</tspan></text>
<circle cx="189.6" cy="314.15" r="1.75" fill="#8e1539"/>
<circle cx="191.8" cy="314.76" r="1.75" fill="#8e1539"/>
<circle cx="194" cy="315.38" r="1.75" fill="#8e1539"/>
<circle cx="193" cy="314.76" r="1.75" fill="#8e1539"/>
<line x1="200.5" y1="302.42" x2="200.5" y2="287.39" stroke="#23406f" stroke-width="0.8" />
<line x1="199.2" y1="294.91" x2="201.8" y2="294.91" stroke="#23406f" stroke-width="0.8" />
<line x1="199.59" y1="302.42" x2="201.41" y2="302.42" stroke="#23406f" stroke-width="0.8" />
<line x1="199.59" y1="287.39" x2="201.41" y2="287.39" stroke="#23406f" stroke-width="0.8" />
<path d="M200.5 278.94L202.4 282.36L198.6 282.36Z" fill="#23406f"/>
<path d="M200.5 294.9L202.4 298.32L198.6 298.32Z" fill="#23406f"/>
<path d="M200.5 304.73L202.4 308.15L198.6 308.15Z" fill="#23406f"/>
<line x1="218.2" y1="317.99" x2="218.2" y2="312.27" stroke="#8e1539" stroke-width="0.8" />
<line x1="216.9" y1="315.13" x2="219.5" y2="315.13" stroke="#8e1539" stroke-width="0.8" />
<line x1="217.29" y1="317.99" x2="219.11" y2="317.99" stroke="#8e1539" stroke-width="0.8" />
<line x1="217.29" y1="312.27" x2="219.11" y2="312.27" stroke="#8e1539" stroke-width="0.8" />
<circle cx="218.2" cy="305.55" r="1.75" fill="#8e1539"/>
<circle cx="218.2" cy="312.92" r="1.75" fill="#8e1539"/>
<circle cx="217.6" cy="315.38" r="1.75" fill="#8e1539"/>
<circle cx="217.8" cy="320.29" r="1.75" fill="#8e1539"/>
<circle cx="219.7" cy="321.52" r="1.75" fill="#8e1539"/>
<path d="M224 304.73L225.9 308.15L222.1 308.15Z" fill="#23406f"/>
<path d="M227 307.18L228.9 310.6L225.1 310.6Z" fill="#23406f"/>
<path d="M226 308.41L227.9 311.83L224.1 311.83Z" fill="#23406f"/>
<path d="M224.5 312.1L226.4 315.52L222.6 315.52Z" fill="#23406f"/>
<line x1="244.4" y1="283.67" x2="244.4" y2="278.93" stroke="#8e1539" stroke-width="0.8" />
<line x1="243.1" y1="281.3" x2="245.7" y2="281.3" stroke="#8e1539" stroke-width="0.8" />
<line x1="243.49" y1="283.67" x2="245.31" y2="283.67" stroke="#8e1539" stroke-width="0.8" />
<line x1="243.49" y1="278.93" x2="245.31" y2="278.93" stroke="#8e1539" stroke-width="0.8" />
<circle cx="244.4" cy="274.85" r="1.75" fill="#8e1539"/>
<circle cx="245.6" cy="280.99" r="1.75" fill="#8e1539"/>
<circle cx="244.4" cy="283.45" r="1.75" fill="#8e1539"/>
<circle cx="243.6" cy="285.9" r="1.75" fill="#8e1539"/>
<line x1="251.5" y1="311.12" x2="251.5" y2="308.17" stroke="#23406f" stroke-width="0.8" />
<line x1="250.2" y1="309.65" x2="252.8" y2="309.65" stroke="#23406f" stroke-width="0.8" />
<line x1="250.59" y1="311.12" x2="252.41" y2="311.12" stroke="#23406f" stroke-width="0.8" />
<line x1="250.59" y1="308.17" x2="252.41" y2="308.17" stroke="#23406f" stroke-width="0.8" />
<path d="M251.5 304.73L253.4 308.15L249.6 308.15Z" fill="#23406f"/>
<path d="M251.5 308.41L253.4 311.83L249.6 311.83Z" fill="#23406f"/>
<path d="M251.5 309.64L253.4 313.06L249.6 313.06Z" fill="#23406f"/>
<circle cx="197.6" cy="277.1" r="1.05" fill="#2a2a2a"/>
<circle cx="201" cy="277.1" r="1.05" fill="#2a2a2a"/>
<circle cx="204.4" cy="277.1" r="1.05" fill="#2a2a2a"/>
<circle cx="238.2" cy="268.9" r="1.05" fill="#2a2a2a"/>
<circle cx="241.6" cy="268.9" r="1.05" fill="#2a2a2a"/>
<circle cx="245" cy="268.9" r="1.05" fill="#2a2a2a"/>
<circle cx="248.4" cy="268.9" r="1.05" fill="#2a2a2a"/>
<text x="276" y="255" font-size="12" font-weight="bold" fill="#000" class="L">G</text>
<line x1="316.6" y1="258.6" x2="316.6" y2="323.8" stroke="#111" stroke-width="1.2" />
<line x1="313.3" y1="262.1" x2="316.6" y2="262.1" stroke="#111" stroke-width="1.2" />
<text x="310.6" y="262.1" font-size="8.5" text-anchor="end" dominant-baseline="central" fill="#333" color="#333" textLength="10.87" lengthAdjust="spacingAndGlyphs">1.5</text>
<line x1="313.3" y1="282.5" x2="316.6" y2="282.5" stroke="#111" stroke-width="1.2" />
<text x="310.6" y="282.5" font-size="8.5" text-anchor="end" dominant-baseline="central" fill="#333" color="#333" textLength="10.87" lengthAdjust="spacingAndGlyphs">1.0</text>
<line x1="313.3" y1="302.9" x2="316.6" y2="302.9" stroke="#111" stroke-width="1.2" />
<text x="310.6" y="302.9" font-size="8.5" text-anchor="end" dominant-baseline="central" fill="#333" color="#333" textLength="10.87" lengthAdjust="spacingAndGlyphs">0.5</text>
<line x1="313.3" y1="323.3" x2="316.6" y2="323.3" stroke="#111" stroke-width="1.2" />
<text x="310.6" y="323.3" font-size="8.5" text-anchor="end" dominant-baseline="central" fill="#333" color="#333" textLength="10.87" lengthAdjust="spacingAndGlyphs">0.0</text>
<line x1="316.1" y1="323.3" x2="392.9" y2="323.3" stroke="#111" stroke-width="1.2" />
<line x1="329.6" y1="323.3" x2="329.6" y2="326.3" stroke="#111" stroke-width="1.2" />
<text x="329.6" y="333.4" font-size="8.5" text-anchor="middle" dominant-baseline="central" fill="#333" color="#333" textLength="4.35" lengthAdjust="spacingAndGlyphs">2</text>
<line x1="355.2" y1="323.3" x2="355.2" y2="326.3" stroke="#111" stroke-width="1.2" />
<text x="355.2" y="333.4" font-size="8.5" text-anchor="middle" dominant-baseline="central" fill="#333" color="#333" textLength="4.35" lengthAdjust="spacingAndGlyphs">3</text>
<line x1="380.4" y1="323.3" x2="380.4" y2="326.3" stroke="#111" stroke-width="1.2" />
<text x="380.4" y="333.4" font-size="8.5" text-anchor="middle" dominant-baseline="central" fill="#333" color="#333" textLength="4.35" lengthAdjust="spacingAndGlyphs">4</text>
<text x="291.6" y="291" font-size="8.8" text-anchor="middle" dominant-baseline="central" fill="#333" color="#333" textLength="65.3" lengthAdjust="spacingAndGlyphs" transform="rotate(-90 291.6 291)">Monocyte% in total</text>
<circle cx="328.4" cy="314.32" r="1.75" fill="#8e1539"/>
<circle cx="327" cy="315.14" r="1.75" fill="#8e1539"/>
<circle cx="323.6" cy="315.96" r="1.75" fill="#8e1539"/>
<circle cx="326" cy="316.77" r="1.75" fill="#8e1539"/>
<circle cx="325" cy="317.18" r="1.75" fill="#8e1539"/>
<line x1="332.6" y1="290.58" x2="332.6" y2="282.09" stroke="#23406f" stroke-width="0.8" />
<line x1="331.3" y1="286.34" x2="333.9" y2="286.34" stroke="#23406f" stroke-width="0.8" />
<line x1="331.69" y1="290.58" x2="333.51" y2="290.58" stroke="#23406f" stroke-width="0.8" />
<line x1="331.69" y1="282.09" x2="333.51" y2="282.09" stroke="#23406f" stroke-width="0.8" />
<path d="M332.6 272.29L334.5 275.71L330.7 275.71Z" fill="#23406f"/>
<path d="M332.6 278.41L334.5 281.83L330.7 281.83Z" fill="#23406f"/>
<path d="M332.6 284.53L334.5 287.95L330.7 287.95Z" fill="#23406f"/>
<path d="M332.6 289.42L334.5 292.84L330.7 292.84Z" fill="#23406f"/>
<path d="M332.6 296.77L334.5 300.19L330.7 300.19Z" fill="#23406f"/>
<line x1="351.8" y1="314.93" x2="351.8" y2="310.78" stroke="#8e1539" stroke-width="0.8" />
<line x1="350.5" y1="312.86" x2="353.1" y2="312.86" stroke="#8e1539" stroke-width="0.8" />
<line x1="350.89" y1="314.93" x2="352.71" y2="314.93" stroke="#8e1539" stroke-width="0.8" />
<line x1="350.89" y1="310.78" x2="352.71" y2="310.78" stroke="#8e1539" stroke-width="0.8" />
<circle cx="349.6" cy="307.8" r="1.75" fill="#8e1539"/>
<circle cx="354.4" cy="309.02" r="1.75" fill="#8e1539"/>
<circle cx="351.8" cy="313.1" r="1.75" fill="#8e1539"/>
<circle cx="353.3" cy="315.14" r="1.75" fill="#8e1539"/>
<circle cx="350.8" cy="319.22" r="1.75" fill="#8e1539"/>
<line x1="358.6" y1="303.79" x2="358.6" y2="296.63" stroke="#23406f" stroke-width="0.8" />
<line x1="357.3" y1="300.21" x2="359.9" y2="300.21" stroke="#23406f" stroke-width="0.8" />
<line x1="357.69" y1="303.79" x2="359.51" y2="303.79" stroke="#23406f" stroke-width="0.8" />
<line x1="357.69" y1="296.63" x2="359.51" y2="296.63" stroke="#23406f" stroke-width="0.8" />
<path d="M358.6 289.42L360.5 292.84L356.7 292.84Z" fill="#23406f"/>
<path d="M357.6 294.73L359.5 298.15L355.7 298.15Z" fill="#23406f"/>
<path d="M358.8 296.77L360.7 300.19L356.9 300.19Z" fill="#23406f"/>
<path d="M359.6 298.81L361.5 302.23L357.7 302.23Z" fill="#23406f"/>
<path d="M358.6 311.05L360.5 314.47L356.7 314.47Z" fill="#23406f"/>
<circle cx="377.6" cy="270.26" r="1.75" fill="#8e1539"/>
<circle cx="379.1" cy="274.34" r="1.75" fill="#8e1539"/>
<circle cx="376.8" cy="276.38" r="1.75" fill="#8e1539"/>
<circle cx="376.2" cy="278.42" r="1.75" fill="#8e1539"/>
<line x1="384.6" y1="286.52" x2="384.6" y2="284.19" stroke="#23406f" stroke-width="0.8" />
<line x1="383.3" y1="285.36" x2="385.9" y2="285.36" stroke="#23406f" stroke-width="0.8" />
<line x1="383.69" y1="286.52" x2="385.51" y2="286.52" stroke="#23406f" stroke-width="0.8" />
<line x1="383.69" y1="284.19" x2="385.51" y2="284.19" stroke="#23406f" stroke-width="0.8" />
<path d="M383.2 280.45L385.1 283.87L381.3 283.87Z" fill="#23406f"/>
<path d="M386 282.49L387.9 285.91L384.1 285.91Z" fill="#23406f"/>
<path d="M384.6 284.53L386.5 287.95L382.7 287.95Z" fill="#23406f"/>
<path d="M384.1 285.75L386 289.17L382.2 289.17Z" fill="#23406f"/>
<circle cx="326.6" cy="269.9" r="1.05" fill="#2a2a2a"/>
<circle cx="330" cy="269.9" r="1.05" fill="#2a2a2a"/>
<circle cx="333.4" cy="269.9" r="1.05" fill="#2a2a2a"/>
<circle cx="336.8" cy="269.9" r="1.05" fill="#2a2a2a"/>
<circle cx="358" cy="285.7" r="1.05" fill="#2a2a2a"/>
<line x1="434.3" y1="260.3" x2="434.3" y2="326" stroke="#111" stroke-width="1.2" />
<line x1="431" y1="263.8" x2="434.3" y2="263.8" stroke="#111" stroke-width="1.2" />
<text x="428.3" y="263.8" font-size="8.5" text-anchor="end" dominant-baseline="central" fill="#333" color="#333" textLength="10.87" lengthAdjust="spacingAndGlyphs">0.4</text>
<line x1="431" y1="279.23" x2="434.3" y2="279.23" stroke="#111" stroke-width="1.2" />
<text x="428.3" y="279.23" font-size="8.5" text-anchor="end" dominant-baseline="central" fill="#333" color="#333" textLength="10.87" lengthAdjust="spacingAndGlyphs">0.3</text>
<line x1="431" y1="294.65" x2="434.3" y2="294.65" stroke="#111" stroke-width="1.2" />
<text x="428.3" y="294.65" font-size="8.5" text-anchor="end" dominant-baseline="central" fill="#333" color="#333" textLength="10.87" lengthAdjust="spacingAndGlyphs">0.2</text>
<line x1="431" y1="310.07" x2="434.3" y2="310.07" stroke="#111" stroke-width="1.2" />
<text x="428.3" y="310.07" font-size="8.5" text-anchor="end" dominant-baseline="central" fill="#333" color="#333" textLength="10.87" lengthAdjust="spacingAndGlyphs">0.1</text>
<line x1="431" y1="325.5" x2="434.3" y2="325.5" stroke="#111" stroke-width="1.2" />
<text x="428.3" y="325.5" font-size="8.5" text-anchor="end" dominant-baseline="central" fill="#333" color="#333" textLength="10.87" lengthAdjust="spacingAndGlyphs">0.0</text>
<line x1="433.8" y1="325.5" x2="511.8" y2="325.5" stroke="#111" stroke-width="1.2" />
<line x1="446.5" y1="325.5" x2="446.5" y2="328.5" stroke="#111" stroke-width="1.2" />
<text x="446.5" y="335.4" font-size="8.5" text-anchor="middle" dominant-baseline="central" fill="#333" color="#333" textLength="4.35" lengthAdjust="spacingAndGlyphs">2</text>
<line x1="472.6" y1="325.5" x2="472.6" y2="328.5" stroke="#111" stroke-width="1.2" />
<text x="472.6" y="335.4" font-size="8.5" text-anchor="middle" dominant-baseline="central" fill="#333" color="#333" textLength="4.35" lengthAdjust="spacingAndGlyphs">3</text>
<line x1="498.3" y1="325.5" x2="498.3" y2="328.5" stroke="#111" stroke-width="1.2" />
<text x="498.3" y="335.4" font-size="8.5" text-anchor="middle" dominant-baseline="central" fill="#333" color="#333" textLength="4.35" lengthAdjust="spacingAndGlyphs">4</text>
<text x="409.2" y="293" font-size="8.8" text-anchor="middle" dominant-baseline="central" fill="#333" color="#333" textLength="61.5" lengthAdjust="spacingAndGlyphs" transform="rotate(-90 409.2 293)">Monocytes (×10<tspan font-size="5.6" dy="-2.8">6</tspan><tspan dy="2.8">)</tspan></text>
<path d="M449.4 252.75L451.3 256.17L447.5 256.17Z" fill="#23406f"/>
<text x="453.8" y="254.7" font-size="8.5" text-anchor="start" dominant-baseline="central" fill="#333" color="#333" textLength="16.8" lengthAdjust="spacingAndGlyphs">Se-A</text>
<circle cx="482.1" cy="254.7" r="1.6" fill="#8e1539"/>
<text x="486" y="254.7" font-size="8.5" text-anchor="start" dominant-baseline="central" fill="#333" color="#333" textLength="17.3" lengthAdjust="spacingAndGlyphs">Se-D</text>
<circle cx="441" cy="307.76" r="1.75" fill="#8e1539"/>
<circle cx="445.3" cy="308.53" r="1.75" fill="#8e1539"/>
<circle cx="444" cy="310.07" r="1.75" fill="#8e1539"/>
<circle cx="446.1" cy="312.39" r="1.75" fill="#8e1539"/>
<circle cx="442.5" cy="314.7" r="1.75" fill="#8e1539"/>
<line x1="450.4" y1="296.72" x2="450.4" y2="287.64" stroke="#23406f" stroke-width="0.8" />
<line x1="449.1" y1="292.18" x2="451.7" y2="292.18" stroke="#23406f" stroke-width="0.8" />
<line x1="449.49" y1="296.72" x2="451.31" y2="296.72" stroke="#23406f" stroke-width="0.8" />
<line x1="449.49" y1="287.64" x2="451.31" y2="287.64" stroke="#23406f" stroke-width="0.8" />
<path d="M451.6 278.72L453.5 282.14L449.7 282.14Z" fill="#23406f"/>
<path d="M449.6 283.34L451.5 286.76L447.7 286.76Z" fill="#23406f"/>
<path d="M450.4 289.51L452.3 292.93L448.5 292.93Z" fill="#23406f"/>
<path d="M450.4 294.14L452.3 297.56L448.5 297.56Z" fill="#23406f"/>
<path d="M450.4 304.94L452.3 308.36L448.5 308.36Z" fill="#23406f"/>
<line x1="469.2" y1="316.97" x2="469.2" y2="312.13" stroke="#8e1539" stroke-width="0.8" />
<line x1="467.9" y1="314.55" x2="470.5" y2="314.55" stroke="#8e1539" stroke-width="0.8" />
<line x1="468.29" y1="316.97" x2="470.11" y2="316.97" stroke="#8e1539" stroke-width="0.8" />
<line x1="468.29" y1="312.13" x2="470.11" y2="312.13" stroke="#8e1539" stroke-width="0.8" />
<circle cx="467" cy="308.53" r="1.75" fill="#8e1539"/>
<circle cx="471.2" cy="310.07" r="1.75" fill="#8e1539"/>
<circle cx="468.7" cy="314.7" r="1.75" fill="#8e1539"/>
<circle cx="470.7" cy="317.79" r="1.75" fill="#8e1539"/>
<circle cx="468.8" cy="321.64" r="1.75" fill="#8e1539"/>
<line x1="476.3" y1="310.61" x2="476.3" y2="303.37" stroke="#23406f" stroke-width="0.8" />
<line x1="475" y1="306.99" x2="477.6" y2="306.99" stroke="#23406f" stroke-width="0.8" />
<line x1="475.39" y1="310.61" x2="477.21" y2="310.61" stroke="#23406f" stroke-width="0.8" />
<line x1="475.39" y1="303.37" x2="477.21" y2="303.37" stroke="#23406f" stroke-width="0.8" />
<path d="M476.3 295.68L478.2 299.1L474.4 299.1Z" fill="#23406f"/>
<path d="M476.3 300.31L478.2 303.73L474.4 303.73Z" fill="#23406f"/>
<path d="M476.3 304.94L478.2 308.36L474.4 308.36Z" fill="#23406f"/>
<path d="M476.7 306.48L478.6 309.9L474.8 309.9Z" fill="#23406f"/>
<path d="M476.3 317.28L478.2 320.7L474.4 320.7Z" fill="#23406f"/>
<line x1="494.6" y1="277.29" x2="494.6" y2="272.68" stroke="#8e1539" stroke-width="0.8" />
<line x1="493.3" y1="274.98" x2="495.9" y2="274.98" stroke="#8e1539" stroke-width="0.8" />
<line x1="493.69" y1="277.29" x2="495.51" y2="277.29" stroke="#8e1539" stroke-width="0.8" />
<line x1="493.69" y1="272.68" x2="495.51" y2="272.68" stroke="#8e1539" stroke-width="0.8" />
<circle cx="493.6" cy="269.97" r="1.75" fill="#8e1539"/>
<circle cx="495.8" cy="273.06" r="1.75" fill="#8e1539"/>
<circle cx="494.6" cy="276.14" r="1.75" fill="#8e1539"/>
<circle cx="494.6" cy="280.77" r="1.75" fill="#8e1539"/>
<line x1="502.8" y1="296.35" x2="502.8" y2="293.72" stroke="#23406f" stroke-width="0.8" />
<line x1="501.5" y1="295.04" x2="504.1" y2="295.04" stroke="#23406f" stroke-width="0.8" />
<line x1="501.89" y1="296.35" x2="503.71" y2="296.35" stroke="#23406f" stroke-width="0.8" />
<line x1="501.89" y1="293.72" x2="503.71" y2="293.72" stroke="#23406f" stroke-width="0.8" />
<path d="M500.6 289.51L502.5 292.93L498.7 292.93Z" fill="#23406f"/>
<path d="M503.6 292.6L505.5 296.02L501.7 296.02Z" fill="#23406f"/>
<path d="M505.3 294.14L507.2 297.56L503.4 297.56Z" fill="#23406f"/>
<path d="M502.2 295.68L504.1 299.1L500.3 299.1Z" fill="#23406f"/>
<circle cx="450.1" cy="275.3" r="1.05" fill="#2a2a2a"/>
<circle cx="453.5" cy="275.3" r="1.05" fill="#2a2a2a"/>
<circle cx="494.2" cy="264.9" r="1.05" fill="#2a2a2a"/>
<text x="9.3" y="365.6" font-size="12" font-weight="bold" fill="#000" class="L">H</text>
<line x1="66" y1="373.5" x2="66" y2="438.8" stroke="#111" stroke-width="1.2" />
<line x1="62.7" y1="377" x2="66" y2="377" stroke="#111" stroke-width="1.2" />
<text x="60" y="377" font-size="8.5" text-anchor="end" dominant-baseline="central" fill="#333" color="#333" textLength="4.35" lengthAdjust="spacingAndGlyphs">4</text>
<line x1="62.7" y1="392.32" x2="66" y2="392.32" stroke="#111" stroke-width="1.2" />
<text x="60" y="392.32" font-size="8.5" text-anchor="end" dominant-baseline="central" fill="#333" color="#333" textLength="4.35" lengthAdjust="spacingAndGlyphs">3</text>
<line x1="62.7" y1="407.65" x2="66" y2="407.65" stroke="#111" stroke-width="1.2" />
<text x="60" y="407.65" font-size="8.5" text-anchor="end" dominant-baseline="central" fill="#333" color="#333" textLength="4.35" lengthAdjust="spacingAndGlyphs">2</text>
<line x1="62.7" y1="422.98" x2="66" y2="422.98" stroke="#111" stroke-width="1.2" />
<text x="60" y="422.98" font-size="8.5" text-anchor="end" dominant-baseline="central" fill="#333" color="#333" textLength="4.35" lengthAdjust="spacingAndGlyphs">1</text>
<line x1="62.7" y1="438.3" x2="66" y2="438.3" stroke="#111" stroke-width="1.2" />
<text x="60" y="438.3" font-size="8.5" text-anchor="end" dominant-baseline="central" fill="#333" color="#333" textLength="4.35" lengthAdjust="spacingAndGlyphs">0</text>
<text x="4" y="450" font-size="9" text-anchor="start" dominant-baseline="central" fill="#333" color="#333" textLength="59.2" lengthAdjust="spacingAndGlyphs">Post BMT (Days)</text>
<text x="37.3" y="407.2" font-size="8.6" text-anchor="middle" dominant-baseline="central" fill="#333" color="#333" textLength="74.5" lengthAdjust="spacingAndGlyphs" transform="rotate(-90 37.3 407.2)">CD11b<tspan font-size="5.6" dy="-2.8">lo/-</tspan><tspan dy="2.8">F4/80</tspan><tspan font-size="5.6" dy="-2.8">+</tspan><tspan dy="2.8"> cells</tspan></text>
<text x="46.8" y="405.8" font-size="8.6" text-anchor="middle" dominant-baseline="central" fill="#333" color="#333" textLength="24" lengthAdjust="spacingAndGlyphs" transform="rotate(-90 46.8 405.8)">(×10<tspan font-size="5.6" dy="-2.8">4</tspan><tspan dy="2.8">)</tspan></text>
<rect x="71.3" y="435.3" width="8.4" height="3" rx="1.4" fill="#807a3e" stroke="#3a3710" stroke-width="0.8"/>
<circle cx="72.5" cy="436.5" r="0.85" fill="#b8bd84"/>
<circle cx="75.5" cy="436.5" r="0.85" fill="#b8bd84"/>
<circle cx="78.5" cy="436.5" r="0.85" fill="#b8bd84"/>
<rect x="103" y="434.3" width="8.1" height="4" rx="1.4" fill="#807a3e" stroke="#3a3710" stroke-width="0.8"/>
<circle cx="104.15" cy="436" r="0.85" fill="#b8bd84"/>
<circle cx="107.05" cy="436" r="0.85" fill="#b8bd84"/>
<circle cx="109.95" cy="436" r="0.85" fill="#b8bd84"/>
<line x1="87.55" y1="408.6" x2="87.55" y2="403" stroke="#274b84" stroke-width="0.9" />
<line x1="86.35" y1="403" x2="88.75" y2="403" stroke="#274b84" stroke-width="0.9" />
<rect x="83.2" y="408.6" width="8.7" height="29.7" fill="#274b84" stroke="#1d3766" stroke-width="0.5"/>
<rect x="86.1" y="388.9" width="2.2" height="2.2" fill="#7cbd4a"/>
<rect x="86.5" y="410.9" width="2.2" height="2.2" fill="#7cbd4a"/>
<rect x="84.1" y="416.7" width="2.2" height="2.2" fill="#7cbd4a"/>
<rect x="88.4" y="416.7" width="2.2" height="2.2" fill="#7cbd4a"/>
<line x1="118.35" y1="417.4" x2="118.35" y2="413" stroke="#274b84" stroke-width="0.9" />
<line x1="117.15" y1="413" x2="119.55" y2="413" stroke="#274b84" stroke-width="0.9" />
<rect x="114.1" y="417.4" width="8.5" height="20.9" fill="#274b84" stroke="#1d3766" stroke-width="0.5"/>
<rect x="117.5" y="402.9" width="2.2" height="2.2" fill="#7cbd4a"/>
<rect x="118.4" y="421.7" width="2.2" height="2.2" fill="#7cbd4a"/>
<rect x="115.7" y="425.3" width="2.2" height="2.2" fill="#7cbd4a"/>
<line x1="65.5" y1="438.3" x2="128.3" y2="438.3" stroke="#111" stroke-width="1.2" />
<line x1="81.4" y1="438.3" x2="81.4" y2="441.3" stroke="#111" stroke-width="1.2" />
<text x="81.4" y="449.5" font-size="8.5" text-anchor="middle" dominant-baseline="central" fill="#333" color="#333" textLength="4.35" lengthAdjust="spacingAndGlyphs">8</text>
<line x1="112.4" y1="438.3" x2="112.4" y2="441.3" stroke="#111" stroke-width="1.2" />
<text x="112.4" y="449.5" font-size="8.5" text-anchor="middle" dominant-baseline="central" fill="#333" color="#333" textLength="8.7" lengthAdjust="spacingAndGlyphs">10</text>
<line x1="76.4" y1="383.3" x2="86.5" y2="383.3" stroke="#222" stroke-width="0.9" />
<circle cx="78.05" cy="379.2" r="1.05" fill="#2a2a2a"/>
<circle cx="81.45" cy="379.2" r="1.05" fill="#2a2a2a"/>
<circle cx="84.85" cy="379.2" r="1.05" fill="#2a2a2a"/>
<line x1="108" y1="399.5" x2="118.6" y2="399.5" stroke="#222" stroke-width="0.9" />
<circle cx="113.3" cy="395.9" r="1.05" fill="#2a2a2a"/>
<text x="144.6" y="365.6" font-size="12" font-weight="bold" fill="#000" class="L">I</text>
<line x1="189.4" y1="373.5" x2="189.4" y2="438.7" stroke="#111" stroke-width="1.2" />
<line x1="186.1" y1="377" x2="189.4" y2="377" stroke="#111" stroke-width="1.2" />
<text x="183.4" y="377" font-size="8.5" text-anchor="end" dominant-baseline="central" fill="#333" color="#333" textLength="8.7" lengthAdjust="spacingAndGlyphs">30</text>
<line x1="186.1" y1="397.4" x2="189.4" y2="397.4" stroke="#111" stroke-width="1.2" />
<text x="183.4" y="397.4" font-size="8.5" text-anchor="end" dominant-baseline="central" fill="#333" color="#333" textLength="8.7" lengthAdjust="spacingAndGlyphs">20</text>
<line x1="186.1" y1="417.8" x2="189.4" y2="417.8" stroke="#111" stroke-width="1.2" />
<text x="183.4" y="417.8" font-size="8.5" text-anchor="end" dominant-baseline="central" fill="#333" color="#333" textLength="8.7" lengthAdjust="spacingAndGlyphs">10</text>
<line x1="186.1" y1="438.2" x2="189.4" y2="438.2" stroke="#111" stroke-width="1.2" />
<text x="183.4" y="438.2" font-size="8.5" text-anchor="end" dominant-baseline="central" fill="#333" color="#333" textLength="4.35" lengthAdjust="spacingAndGlyphs">0</text>
<text x="154.4" y="406.5" font-size="8.6" text-anchor="middle" dominant-baseline="central" fill="#333" color="#333" textLength="70.3" lengthAdjust="spacingAndGlyphs" transform="rotate(-90 154.4 406.5)">CD11b<tspan font-size="5.6" dy="-2.8">+</tspan><tspan dy="2.8">F4/80</tspan><tspan font-size="5.6" dy="-2.8">+</tspan><tspan dy="2.8"> cells</tspan></text>
<text x="165.4" y="405.8" font-size="8.6" text-anchor="middle" dominant-baseline="central" fill="#333" color="#333" textLength="24" lengthAdjust="spacingAndGlyphs" transform="rotate(-90 165.4 405.8)">(×10<tspan font-size="5.6" dy="-2.8">4</tspan><tspan dy="2.8">)</tspan></text>
<rect x="194" y="435.2" width="8.2" height="3" rx="1.4" fill="#807a3e" stroke="#3a3710" stroke-width="0.8"/>
<circle cx="195.17" cy="436.4" r="0.85" fill="#b8bd84"/>
<circle cx="198.1" cy="436.4" r="0.85" fill="#b8bd84"/>
<circle cx="201.03" cy="436.4" r="0.85" fill="#b8bd84"/>
<rect x="226.5" y="435.2" width="7.7" height="3" rx="1.4" fill="#807a3e" stroke="#3a3710" stroke-width="0.8"/>
<circle cx="227.58" cy="436.4" r="0.85" fill="#b8bd84"/>
<circle cx="230.35" cy="436.4" r="0.85" fill="#b8bd84"/>
<circle cx="233.12" cy="436.4" r="0.85" fill="#b8bd84"/>
<line x1="210.6" y1="412" x2="210.6" y2="402" stroke="#274b84" stroke-width="0.9" />
<line x1="209.4" y1="402" x2="211.8" y2="402" stroke="#274b84" stroke-width="0.9" />
<rect x="206.2" y="412" width="8.8" height="26.2" fill="#274b84" stroke="#1d3766" stroke-width="0.5"/>
<rect x="209.4" y="379.7" width="2.2" height="2.2" fill="#7cbd4a"/>
<rect x="208.1" y="416.9" width="2.2" height="2.2" fill="#7cbd4a"/>
<rect x="210.3" y="420.9" width="2.2" height="2.2" fill="#7cbd4a"/>
<rect x="207.3" y="419.4" width="2.2" height="2.2" fill="#7cbd4a"/>
<line x1="241.25" y1="393" x2="241.25" y2="385.5" stroke="#274b84" stroke-width="0.9" />
<line x1="240.05" y1="385.5" x2="242.45" y2="385.5" stroke="#274b84" stroke-width="0.9" />
<rect x="237" y="393" width="8.5" height="45.2" fill="#274b84" stroke="#1d3766" stroke-width="0.5"/>
<rect x="240.1" y="379.7" width="2.2" height="2.2" fill="#7cbd4a"/>
<rect x="238.5" y="384.4" width="2.2" height="2.2" fill="#7cbd4a"/>
<rect x="242.3" y="384.9" width="2.2" height="2.2" fill="#7cbd4a"/>
<rect x="240.6" y="418.9" width="2.2" height="2.2" fill="#7cbd4a"/>
<line x1="188.9" y1="438.2" x2="251.2" y2="438.2" stroke="#111" stroke-width="1.2" />
<line x1="204.5" y1="438.2" x2="204.5" y2="441.2" stroke="#111" stroke-width="1.2" />
<text x="204.5" y="449.5" font-size="8.5" text-anchor="middle" dominant-baseline="central" fill="#333" color="#333" textLength="4.35" lengthAdjust="spacingAndGlyphs">8</text>
<line x1="236.2" y1="438.2" x2="236.2" y2="441.2" stroke="#111" stroke-width="1.2" />
<text x="236.2" y="449.5" font-size="8.5" text-anchor="middle" dominant-baseline="central" fill="#333" color="#333" textLength="8.7" lengthAdjust="spacingAndGlyphs">10</text>
<line x1="196.2" y1="378.8" x2="207" y2="378.8" stroke="#222" stroke-width="0.9" />
<circle cx="201.6" cy="375.1" r="1.05" fill="#2a2a2a"/>
<line x1="229.5" y1="374.6" x2="240" y2="374.6" stroke="#222" stroke-width="0.9" />
<circle cx="231.35" cy="371.1" r="1.05" fill="#2a2a2a"/>
<circle cx="234.75" cy="371.1" r="1.05" fill="#2a2a2a"/>
<circle cx="238.15" cy="371.1" r="1.05" fill="#2a2a2a"/>
<text x="266.5" y="366" font-size="12" font-weight="bold" fill="#000" class="L">J</text>
<line x1="307.4" y1="373.5" x2="307.4" y2="438.7" stroke="#111" stroke-width="1.2" />
<line x1="304.1" y1="377" x2="307.4" y2="377" stroke="#111" stroke-width="1.2" />
<text x="301.4" y="377" font-size="8.5" text-anchor="end" dominant-baseline="central" fill="#333" color="#333" textLength="13.05" lengthAdjust="spacingAndGlyphs">250</text>
<line x1="304.1" y1="389.24" x2="307.4" y2="389.24" stroke="#111" stroke-width="1.2" />
<text x="301.4" y="389.24" font-size="8.5" text-anchor="end" dominant-baseline="central" fill="#333" color="#333" textLength="13.05" lengthAdjust="spacingAndGlyphs">200</text>
<line x1="304.1" y1="401.48" x2="307.4" y2="401.48" stroke="#111" stroke-width="1.2" />
<text x="301.4" y="401.48" font-size="8.5" text-anchor="end" dominant-baseline="central" fill="#333" color="#333" textLength="13.05" lengthAdjust="spacingAndGlyphs">150</text>
<line x1="304.1" y1="413.72" x2="307.4" y2="413.72" stroke="#111" stroke-width="1.2" />
<text x="301.4" y="413.72" font-size="8.5" text-anchor="end" dominant-baseline="central" fill="#333" color="#333" textLength="13.05" lengthAdjust="spacingAndGlyphs">100</text>
<line x1="304.1" y1="425.96" x2="307.4" y2="425.96" stroke="#111" stroke-width="1.2" />
<text x="301.4" y="425.96" font-size="8.5" text-anchor="end" dominant-baseline="central" fill="#333" color="#333" textLength="8.7" lengthAdjust="spacingAndGlyphs">50</text>
<line x1="304.1" y1="438.2" x2="307.4" y2="438.2" stroke="#111" stroke-width="1.2" />
<text x="301.4" y="438.2" font-size="8.5" text-anchor="end" dominant-baseline="central" fill="#333" color="#333" textLength="4.35" lengthAdjust="spacingAndGlyphs">0</text>
<text x="280.3" y="402.9" font-size="8.8" text-anchor="middle" dominant-baseline="central" fill="#333" color="#333" textLength="51.7" lengthAdjust="spacingAndGlyphs" transform="rotate(-90 280.3 402.9)">RPMs (×10<tspan font-size="5.6" dy="-2.8">4</tspan><tspan dy="2.8">)</tspan></text>
<rect x="312.8" y="435.2" width="8.1" height="3" rx="1.4" fill="#807a3e" stroke="#3a3710" stroke-width="0.8"/>
<circle cx="313.95" cy="436.4" r="0.85" fill="#b8bd84"/>
<circle cx="316.85" cy="436.4" r="0.85" fill="#b8bd84"/>
<circle cx="319.75" cy="436.4" r="0.85" fill="#b8bd84"/>
<rect x="344" y="435.2" width="8.2" height="3" rx="1.4" fill="#807a3e" stroke="#3a3710" stroke-width="0.8"/>
<circle cx="345.17" cy="436.4" r="0.85" fill="#b8bd84"/>
<circle cx="348.1" cy="436.4" r="0.85" fill="#b8bd84"/>
<circle cx="351.03" cy="436.4" r="0.85" fill="#b8bd84"/>
<line x1="329.1" y1="406.2" x2="329.1" y2="395.8" stroke="#274b84" stroke-width="0.9" />
<line x1="327.9" y1="395.8" x2="330.3" y2="395.8" stroke="#274b84" stroke-width="0.9" />
<rect x="324.5" y="406.2" width="9.2" height="32" fill="#274b84" stroke="#1d3766" stroke-width="0.5"/>
<rect x="327.6" y="375.1" width="2.2" height="2.2" fill="#7cbd4a"/>
<rect x="327.1" y="411.4" width="2.2" height="2.2" fill="#7cbd4a"/>
<rect x="325.5" y="416.4" width="2.2" height="2.2" fill="#7cbd4a"/>
<rect x="330.3" y="415.9" width="2.2" height="2.2" fill="#7cbd4a"/>
<line x1="359.7" y1="420" x2="359.7" y2="415.5" stroke="#274b84" stroke-width="0.9" />
<line x1="358.5" y1="415.5" x2="360.9" y2="415.5" stroke="#274b84" stroke-width="0.9" />
<rect x="355.7" y="420" width="8" height="18.2" fill="#274b84" stroke="#1d3766" stroke-width="0.5"/>
<rect x="358.4" y="405.7" width="2.2" height="2.2" fill="#7cbd4a"/>
<rect x="358.9" y="420.9" width="2.2" height="2.2" fill="#7cbd4a"/>
<rect x="358.4" y="428.1" width="2.2" height="2.2" fill="#7cbd4a"/>
<line x1="306.9" y1="438.2" x2="370" y2="438.2" stroke="#111" stroke-width="1.2" />
<line x1="323" y1="438.2" x2="323" y2="441.2" stroke="#111" stroke-width="1.2" />
<text x="323" y="448.3" font-size="8.5" text-anchor="middle" dominant-baseline="central" fill="#333" color="#333" textLength="4.35" lengthAdjust="spacingAndGlyphs">8</text>
<line x1="354.5" y1="438.2" x2="354.5" y2="441.2" stroke="#111" stroke-width="1.2" />
<text x="354.5" y="448.3" font-size="8.5" text-anchor="middle" dominant-baseline="central" fill="#333" color="#333" textLength="8.7" lengthAdjust="spacingAndGlyphs">10</text>
<line x1="316.2" y1="373" x2="326.2" y2="373" stroke="#222" stroke-width="0.9" />
<circle cx="319.5" cy="370" r="1.05" fill="#2a2a2a"/>
<circle cx="322.9" cy="370" r="1.05" fill="#2a2a2a"/>
<text x="385.8" y="365.6" font-size="12" font-weight="bold" fill="#000" class="L">K</text>
<line x1="424.2" y1="373.5" x2="424.2" y2="438.4" stroke="#111" stroke-width="1.2" />
<line x1="420.9" y1="377" x2="424.2" y2="377" stroke="#111" stroke-width="1.2" />
<text x="418.2" y="377" font-size="8.5" text-anchor="end" dominant-baseline="central" fill="#333" color="#333" textLength="8.7" lengthAdjust="spacingAndGlyphs">20</text>
<line x1="420.9" y1="392.23" x2="424.2" y2="392.23" stroke="#111" stroke-width="1.2" />
<text x="418.2" y="392.23" font-size="8.5" text-anchor="end" dominant-baseline="central" fill="#333" color="#333" textLength="8.7" lengthAdjust="spacingAndGlyphs">15</text>
<line x1="420.9" y1="407.45" x2="424.2" y2="407.45" stroke="#111" stroke-width="1.2" />
<text x="418.2" y="407.45" font-size="8.5" text-anchor="end" dominant-baseline="central" fill="#333" color="#333" textLength="8.7" lengthAdjust="spacingAndGlyphs">10</text>
<line x1="420.9" y1="422.67" x2="424.2" y2="422.67" stroke="#111" stroke-width="1.2" />
<text x="418.2" y="422.67" font-size="8.5" text-anchor="end" dominant-baseline="central" fill="#333" color="#333" textLength="4.35" lengthAdjust="spacingAndGlyphs">5</text>
<line x1="420.9" y1="437.9" x2="424.2" y2="437.9" stroke="#111" stroke-width="1.2" />
<text x="418.2" y="437.9" font-size="8.5" text-anchor="end" dominant-baseline="central" fill="#333" color="#333" textLength="4.35" lengthAdjust="spacingAndGlyphs">0</text>
<text x="399.3" y="406.8" font-size="8.8" text-anchor="middle" dominant-baseline="central" fill="#333" color="#333" textLength="61.5" lengthAdjust="spacingAndGlyphs" transform="rotate(-90 399.3 406.8)">Monocytes (×10<tspan font-size="5.6" dy="-2.8">4</tspan><tspan dy="2.8">)</tspan></text>
<rect x="430.3" y="435" width="6.9" height="3" rx="1.4" fill="#807a3e" stroke="#3a3710" stroke-width="0.8"/>
<circle cx="431.25" cy="436.2" r="0.85" fill="#b8bd84"/>
<circle cx="433.75" cy="436.2" r="0.85" fill="#b8bd84"/>
<circle cx="436.25" cy="436.2" r="0.85" fill="#b8bd84"/>
<rect x="461.5" y="435" width="6.9" height="3" rx="1.4" fill="#807a3e" stroke="#3a3710" stroke-width="0.8"/>
<circle cx="462.45" cy="436.2" r="0.85" fill="#b8bd84"/>
<circle cx="464.95" cy="436.2" r="0.85" fill="#b8bd84"/>
<circle cx="467.45" cy="436.2" r="0.85" fill="#b8bd84"/>
<line x1="445.6" y1="415" x2="445.6" y2="403.2" stroke="#274b84" stroke-width="0.9" />
<line x1="444.4" y1="403.2" x2="446.8" y2="403.2" stroke="#274b84" stroke-width="0.9" />
<rect x="441.2" y="415" width="8.8" height="23" fill="#274b84" stroke="#1d3766" stroke-width="0.5"/>
<rect x="443.9" y="378.9" width="2.2" height="2.2" fill="#7cbd4a"/>
<rect x="442.9" y="423.9" width="2.2" height="2.2" fill="#7cbd4a"/>
<rect x="446.1" y="426.9" width="2.2" height="2.2" fill="#7cbd4a"/>
<line x1="476.6" y1="403.7" x2="476.6" y2="395" stroke="#274b84" stroke-width="0.9" />
<line x1="475.4" y1="395" x2="477.8" y2="395" stroke="#274b84" stroke-width="0.9" />
<rect x="472.5" y="403.7" width="8.2" height="34.3" fill="#274b84" stroke="#1d3766" stroke-width="0.5"/>
<rect x="475.1" y="390.1" width="2.2" height="2.2" fill="#7cbd4a"/>
<rect x="475.5" y="393.9" width="2.2" height="2.2" fill="#7cbd4a"/>
<rect x="475.9" y="408.4" width="2.2" height="2.2" fill="#7cbd4a"/>
<rect x="475.9" y="417.6" width="2.2" height="2.2" fill="#7cbd4a"/>
<line x1="423.7" y1="437.9" x2="482.5" y2="437.9" stroke="#111" stroke-width="1.2" />
<line x1="439.5" y1="437.9" x2="439.5" y2="440.9" stroke="#111" stroke-width="1.2" />
<text x="439.5" y="449.5" font-size="8.5" text-anchor="middle" dominant-baseline="central" fill="#333" color="#333" textLength="4.35" lengthAdjust="spacingAndGlyphs">8</text>
<line x1="471.2" y1="437.9" x2="471.2" y2="440.9" stroke="#111" stroke-width="1.2" />
<text x="471.2" y="449.5" font-size="8.5" text-anchor="middle" dominant-baseline="central" fill="#333" color="#333" textLength="8.7" lengthAdjust="spacingAndGlyphs">10</text>
<line x1="465.5" y1="384.5" x2="475" y2="384.5" stroke="#222" stroke-width="0.9" />
<circle cx="468.55" cy="381.3" r="1.05" fill="#2a2a2a"/>
<circle cx="471.95" cy="381.3" r="1.05" fill="#2a2a2a"/>
<rect x="481.2" y="368.7" width="7.5" height="6.3" fill="#aa1538" stroke="#7e0f2a" stroke-width="0.4"/>
<text x="491.2" y="371.4" font-size="7.2" text-anchor="start" dominant-baseline="central" fill="#333" color="#333" font-style="italic" textLength="21" lengthAdjust="spacingAndGlyphs">Trsp<tspan font-size="4.4" dy="-2.4">fl/fl</tspan></text>
<rect x="481.2" y="377.2" width="7.5" height="6.5" fill="#274b84" stroke="#1d3766" stroke-width="0.5"/>
<text x="491.2" y="380.2" font-size="7.2" text-anchor="start" dominant-baseline="central" fill="#333" color="#333" font-style="italic" textLength="21" lengthAdjust="spacingAndGlyphs">Trsp<tspan font-size="4.4" dy="-2.4">Δ/Δ</tspan></text>
<text x="9.6" y="492.2" font-size="12" font-weight="bold" fill="#000" class="L">L</text>
<text x="108.6" y="498.8" font-size="8.5" text-anchor="middle" dominant-baseline="central" fill="#333" color="#333" textLength="37.5" lengthAdjust="spacingAndGlyphs">100% PHZ</text>
<line x1="66.3" y1="506.1" x2="66.3" y2="571.4" stroke="#111" stroke-width="1.2" />
<line x1="63" y1="509.6" x2="66.3" y2="509.6" stroke="#111" stroke-width="1.2" />
<text x="60.3" y="509.6" font-size="8.5" text-anchor="end" dominant-baseline="central" fill="#333" color="#333" textLength="4.35" lengthAdjust="spacingAndGlyphs">3</text>
<line x1="63" y1="530.03" x2="66.3" y2="530.03" stroke="#111" stroke-width="1.2" />
<text x="60.3" y="530.03" font-size="8.5" text-anchor="end" dominant-baseline="central" fill="#333" color="#333" textLength="4.35" lengthAdjust="spacingAndGlyphs">2</text>
<line x1="63" y1="550.47" x2="66.3" y2="550.47" stroke="#111" stroke-width="1.2" />
<text x="60.3" y="550.47" font-size="8.5" text-anchor="end" dominant-baseline="central" fill="#333" color="#333" textLength="4.35" lengthAdjust="spacingAndGlyphs">1</text>
<line x1="63" y1="570.9" x2="66.3" y2="570.9" stroke="#111" stroke-width="1.2" />
<text x="60.3" y="570.9" font-size="8.5" text-anchor="end" dominant-baseline="central" fill="#333" color="#333" textLength="4.35" lengthAdjust="spacingAndGlyphs">0</text>
<text x="4.5" y="581" font-size="9" text-anchor="start" dominant-baseline="central" fill="#333" color="#333" textLength="58.1" lengthAdjust="spacingAndGlyphs">Post PHZ (Days)</text>
<text x="35.5" y="538.5" font-size="8.8" text-anchor="middle" dominant-baseline="central" fill="#333" color="#333" font-style="italic" textLength="13.5" lengthAdjust="spacingAndGlyphs" transform="rotate(-90 35.5 538.5)">Spic</text>
<text x="47.6" y="538.5" font-size="8.6" text-anchor="middle" dominant-baseline="central" fill="#333" color="#333" textLength="46" lengthAdjust="spacingAndGlyphs" transform="rotate(-90 47.6 538.5)">relative to 18s</text>
<rect x="71.4" y="512.6" width="7.4" height="5" fill="#aa1538" stroke="#7e0f2a" stroke-width="0.4"/>
<text x="81.5" y="515.2" font-size="8.5" text-anchor="start" dominant-baseline="central" fill="#333" color="#333" textLength="17" lengthAdjust="spacingAndGlyphs">Se-D</text>
<rect x="71.4" y="523" width="7.4" height="5" fill="#274b84" stroke="#1d3766" stroke-width="0.5"/>
<text x="81.5" y="525.5" font-size="8.5" text-anchor="start" dominant-baseline="central" fill="#333" color="#333" textLength="16.3" lengthAdjust="spacingAndGlyphs">Se-A</text>
<line x1="71.4" y1="552.6" x2="71.4" y2="550.9" stroke="#aa1538" stroke-width="0.9" />
<line x1="70.4" y1="550.9" x2="72.4" y2="550.9" stroke="#aa1538" stroke-width="0.8" />
<rect x="69.2" y="552.6" width="4.4" height="18.3" fill="#aa1538" stroke="#7e0f2a" stroke-width="0.4"/>
<line x1="77.15" y1="558.4" x2="77.15" y2="557.1" stroke="#274b84" stroke-width="0.9" />
<line x1="76.15" y1="557.1" x2="78.15" y2="557.1" stroke="#274b84" stroke-width="0.8" />
<rect x="75" y="558.4" width="4.3" height="12.5" fill="#274b84" stroke="#1d3766" stroke-width="0.5"/>
<line x1="86.25" y1="556.1" x2="86.25" y2="552.9" stroke="#aa1538" stroke-width="0.9" />
<line x1="85.25" y1="552.9" x2="87.25" y2="552.9" stroke="#aa1538" stroke-width="0.8" />
<rect x="84" y="556.1" width="4.5" height="14.8" fill="#aa1538" stroke="#7e0f2a" stroke-width="0.4"/>
<line x1="92" y1="555.1" x2="92" y2="553.9" stroke="#274b84" stroke-width="0.9" />
<line x1="91" y1="553.9" x2="93" y2="553.9" stroke="#274b84" stroke-width="0.8" />
<rect x="89.8" y="555.1" width="4.4" height="15.8" fill="#274b84" stroke="#1d3766" stroke-width="0.5"/>
<line x1="101.6" y1="560.3" x2="101.6" y2="558.1" stroke="#aa1538" stroke-width="0.9" />
<line x1="100.6" y1="558.1" x2="102.6" y2="558.1" stroke="#aa1538" stroke-width="0.8" />
<rect x="99.4" y="560.3" width="4.4" height="10.6" fill="#aa1538" stroke="#7e0f2a" stroke-width="0.4"/>
<line x1="107.4" y1="557" x2="107.4" y2="555.8" stroke="#274b84" stroke-width="0.9" />
<line x1="106.4" y1="555.8" x2="108.4" y2="555.8" stroke="#274b84" stroke-width="0.8" />
<rect x="105.2" y="557" width="4.4" height="13.9" fill="#274b84" stroke="#1d3766" stroke-width="0.5"/>
<line x1="117" y1="561.3" x2="117" y2="557.8" stroke="#aa1538" stroke-width="0.9" />
<line x1="116" y1="557.8" x2="118" y2="557.8" stroke="#aa1538" stroke-width="0.8" />
<rect x="114.8" y="561.3" width="4.4" height="9.6" fill="#aa1538" stroke="#7e0f2a" stroke-width="0.4"/>
<line x1="122.8" y1="546.5" x2="122.8" y2="545.1" stroke="#274b84" stroke-width="0.9" />
<line x1="121.8" y1="545.1" x2="123.8" y2="545.1" stroke="#274b84" stroke-width="0.8" />
<rect x="120.6" y="546.5" width="4.4" height="24.4" fill="#274b84" stroke="#1d3766" stroke-width="0.5"/>
<line x1="132.55" y1="556.7" x2="132.55" y2="553.9" stroke="#aa1538" stroke-width="0.9" />
<line x1="131.55" y1="553.9" x2="133.55" y2="553.9" stroke="#aa1538" stroke-width="0.8" />
<rect x="130.3" y="556.7" width="4.5" height="14.2" fill="#aa1538" stroke="#7e0f2a" stroke-width="0.4"/>
<line x1="138.2" y1="544.5" x2="138.2" y2="540.9" stroke="#274b84" stroke-width="0.9" />
<line x1="137.2" y1="540.9" x2="139.2" y2="540.9" stroke="#274b84" stroke-width="0.8" />
<rect x="136" y="544.5" width="4.4" height="26.4" fill="#274b84" stroke="#1d3766" stroke-width="0.5"/>
<line x1="147.8" y1="565.3" x2="147.8" y2="563.1" stroke="#aa1538" stroke-width="0.9" />
<line x1="146.8" y1="563.1" x2="148.8" y2="563.1" stroke="#aa1538" stroke-width="0.8" />
<rect x="145.6" y="565.3" width="4.4" height="5.6" fill="#aa1538" stroke="#7e0f2a" stroke-width="0.4"/>
<line x1="153.7" y1="532" x2="153.7" y2="519" stroke="#274b84" stroke-width="0.9" />
<line x1="152.7" y1="519" x2="154.7" y2="519" stroke="#274b84" stroke-width="0.8" />
<rect x="151.4" y="532" width="4.6" height="38.9" fill="#274b84" stroke="#1d3766" stroke-width="0.5"/>
<line x1="65.8" y1="570.9" x2="158.7" y2="570.9" stroke="#111" stroke-width="1.2" />
<line x1="74.2" y1="570.9" x2="74.2" y2="573.9" stroke="#111" stroke-width="1.2" />
<text x="74.2" y="581" font-size="8.5" text-anchor="middle" dominant-baseline="central" fill="#333" color="#333" textLength="4.35" lengthAdjust="spacingAndGlyphs">0</text>
<line x1="89.1" y1="570.9" x2="89.1" y2="573.9" stroke="#111" stroke-width="1.2" />
<text x="89.1" y="581" font-size="8.5" text-anchor="middle" dominant-baseline="central" fill="#333" color="#333" textLength="4.35" lengthAdjust="spacingAndGlyphs">1</text>
<line x1="104.5" y1="570.9" x2="104.5" y2="573.9" stroke="#111" stroke-width="1.2" />
<text x="104.5" y="581" font-size="8.5" text-anchor="middle" dominant-baseline="central" fill="#333" color="#333" textLength="10.87" lengthAdjust="spacingAndGlyphs">1.5</text>
<line x1="119.9" y1="570.9" x2="119.9" y2="573.9" stroke="#111" stroke-width="1.2" />
<text x="119.9" y="581" font-size="8.5" text-anchor="middle" dominant-baseline="central" fill="#333" color="#333" textLength="4.35" lengthAdjust="spacingAndGlyphs">2</text>
<line x1="135.3" y1="570.9" x2="135.3" y2="573.9" stroke="#111" stroke-width="1.2" />
<text x="135.3" y="581" font-size="8.5" text-anchor="middle" dominant-baseline="central" fill="#333" color="#333" textLength="10.87" lengthAdjust="spacingAndGlyphs">2.5</text>
<line x1="150.8" y1="570.9" x2="150.8" y2="573.9" stroke="#111" stroke-width="1.2" />
<text x="150.8" y="581" font-size="8.5" text-anchor="middle" dominant-baseline="central" fill="#333" color="#333" textLength="4.35" lengthAdjust="spacingAndGlyphs">3</text>
<circle cx="122.8" cy="541.2" r="1.05" fill="#2a2a2a"/>
<circle cx="138.2" cy="537.2" r="1.05" fill="#2a2a2a"/>
<circle cx="148.6" cy="514.7" r="1.05" fill="#2a2a2a"/>
<circle cx="152" cy="514.7" r="1.05" fill="#2a2a2a"/>
<circle cx="155.4" cy="514.7" r="1.05" fill="#2a2a2a"/>
<circle cx="158.8" cy="514.7" r="1.05" fill="#2a2a2a"/>
<text x="208.6" y="498.8" font-size="8.5" text-anchor="middle" dominant-baseline="central" fill="#333" color="#333" textLength="32.7" lengthAdjust="spacingAndGlyphs">50% PHZ</text>
<line x1="181.2" y1="505.7" x2="181.2" y2="571.5" stroke="#111" stroke-width="1.2" />
<line x1="177.9" y1="509.2" x2="181.2" y2="509.2" stroke="#111" stroke-width="1.2" />
<text x="175.2" y="509.2" font-size="8.5" text-anchor="end" dominant-baseline="central" fill="#333" color="#333" textLength="8.7" lengthAdjust="spacingAndGlyphs">50</text>
<line x1="177.9" y1="521.56" x2="181.2" y2="521.56" stroke="#111" stroke-width="1.2" />
<text x="175.2" y="521.56" font-size="8.5" text-anchor="end" dominant-baseline="central" fill="#333" color="#333" textLength="8.7" lengthAdjust="spacingAndGlyphs">40</text>
<line x1="177.9" y1="533.92" x2="181.2" y2="533.92" stroke="#111" stroke-width="1.2" />
<text x="175.2" y="533.92" font-size="8.5" text-anchor="end" dominant-baseline="central" fill="#333" color="#333" textLength="8.7" lengthAdjust="spacingAndGlyphs">30</text>
<line x1="177.9" y1="546.28" x2="181.2" y2="546.28" stroke="#111" stroke-width="1.2" />
<text x="175.2" y="546.28" font-size="8.5" text-anchor="end" dominant-baseline="central" fill="#333" color="#333" textLength="8.7" lengthAdjust="spacingAndGlyphs">20</text>
<line x1="177.9" y1="558.64" x2="181.2" y2="558.64" stroke="#111" stroke-width="1.2" />
<text x="175.2" y="558.64" font-size="8.5" text-anchor="end" dominant-baseline="central" fill="#333" color="#333" textLength="8.7" lengthAdjust="spacingAndGlyphs">10</text>
<line x1="177.9" y1="571" x2="181.2" y2="571" stroke="#111" stroke-width="1.2" />
<text x="175.2" y="571" font-size="8.5" text-anchor="end" dominant-baseline="central" fill="#333" color="#333" textLength="4.35" lengthAdjust="spacingAndGlyphs">0</text>
<line x1="186.8" y1="559.2" x2="186.8" y2="555" stroke="#aa1538" stroke-width="0.9" />
<line x1="185.8" y1="555" x2="187.8" y2="555" stroke="#aa1538" stroke-width="0.8" />
<rect x="184.2" y="559.2" width="5.2" height="11.8" fill="#aa1538" stroke="#7e0f2a" stroke-width="0.4"/>
<line x1="193.5" y1="554.8" x2="193.5" y2="548" stroke="#274b84" stroke-width="0.9" />
<line x1="192.5" y1="548" x2="194.5" y2="548" stroke="#274b84" stroke-width="0.8" />
<rect x="190.8" y="554.8" width="5.4" height="16.2" fill="#274b84" stroke="#1d3766" stroke-width="0.5"/>
<line x1="205" y1="563" x2="205" y2="558.8" stroke="#aa1538" stroke-width="0.9" />
<line x1="204" y1="558.8" x2="206" y2="558.8" stroke="#aa1538" stroke-width="0.8" />
<rect x="202.3" y="563" width="5.4" height="8" fill="#aa1538" stroke="#7e0f2a" stroke-width="0.4"/>
<line x1="211.55" y1="530.8" x2="211.55" y2="515" stroke="#274b84" stroke-width="0.9" />
<line x1="210.55" y1="515" x2="212.55" y2="515" stroke="#274b84" stroke-width="0.8" />
<rect x="208.7" y="530.8" width="5.7" height="40.2" fill="#274b84" stroke="#1d3766" stroke-width="0.5"/>
<line x1="222.8" y1="546.7" x2="222.8" y2="539.6" stroke="#aa1538" stroke-width="0.9" />
<line x1="221.8" y1="539.6" x2="223.8" y2="539.6" stroke="#aa1538" stroke-width="0.8" />
<rect x="220.2" y="546.7" width="5.2" height="24.3" fill="#aa1538" stroke="#7e0f2a" stroke-width="0.4"/>
<line x1="229.65" y1="544.4" x2="229.65" y2="544" stroke="#274b84" stroke-width="0.9" />
<line x1="228.65" y1="544" x2="230.65" y2="544" stroke="#274b84" stroke-width="0.8" />
<rect x="227" y="544.4" width="5.3" height="26.6" fill="#274b84" stroke="#1d3766" stroke-width="0.5"/>
<line x1="180.7" y1="571" x2="235.6" y2="571" stroke="#111" stroke-width="1.2" />
<line x1="190.2" y1="571" x2="190.2" y2="574" stroke="#111" stroke-width="1.2" />
<text x="190.2" y="581.3" font-size="8.5" text-anchor="middle" dominant-baseline="central" fill="#333" color="#333" textLength="4.35" lengthAdjust="spacingAndGlyphs">2</text>
<line x1="208.4" y1="571" x2="208.4" y2="574" stroke="#111" stroke-width="1.2" />
<text x="208.4" y="581.3" font-size="8.5" text-anchor="middle" dominant-baseline="central" fill="#333" color="#333" textLength="4.35" lengthAdjust="spacingAndGlyphs">3</text>
<line x1="226.3" y1="571" x2="226.3" y2="574" stroke="#111" stroke-width="1.2" />
<text x="226.3" y="581.3" font-size="8.5" text-anchor="middle" dominant-baseline="central" fill="#333" color="#333" textLength="4.35" lengthAdjust="spacingAndGlyphs">4</text>
<circle cx="205.4" cy="552.6" r="1.05" fill="#2a2a2a"/>
<text x="251.6" y="492.2" font-size="12" font-weight="bold" fill="#000" class="L">M</text>
<line x1="290.4" y1="501.5" x2="290.4" y2="571.5" stroke="#111" stroke-width="1.2" />
<line x1="287.1" y1="505" x2="290.4" y2="505" stroke="#111" stroke-width="1.2" />
<text x="284.4" y="505" font-size="8.5" text-anchor="end" dominant-baseline="central" fill="#333" color="#333" textLength="8.7" lengthAdjust="spacingAndGlyphs">60</text>
<line x1="287.1" y1="527" x2="290.4" y2="527" stroke="#111" stroke-width="1.2" />
<text x="284.4" y="527" font-size="8.5" text-anchor="end" dominant-baseline="central" fill="#333" color="#333" textLength="8.7" lengthAdjust="spacingAndGlyphs">40</text>
<line x1="287.1" y1="549" x2="290.4" y2="549" stroke="#111" stroke-width="1.2" />
<text x="284.4" y="549" font-size="8.5" text-anchor="end" dominant-baseline="central" fill="#333" color="#333" textLength="8.7" lengthAdjust="spacingAndGlyphs">20</text>
<line x1="287.1" y1="571" x2="290.4" y2="571" stroke="#111" stroke-width="1.2" />
<text x="284.4" y="571" font-size="8.5" text-anchor="end" dominant-baseline="central" fill="#333" color="#333" textLength="4.35" lengthAdjust="spacingAndGlyphs">0</text>
<line x1="289.9" y1="571" x2="389.4" y2="571" stroke="#111" stroke-width="1.2" />
<line x1="295.8" y1="571" x2="295.8" y2="574" stroke="#111" stroke-width="1.2" />
<text x="295.8" y="580.5" font-size="8.5" text-anchor="middle" dominant-baseline="central" fill="#333" color="#333" textLength="4.35" lengthAdjust="spacingAndGlyphs">0</text>
<line x1="308.7" y1="571" x2="308.7" y2="574" stroke="#111" stroke-width="1.2" />
<text x="308.7" y="580.5" font-size="8.5" text-anchor="middle" dominant-baseline="central" fill="#333" color="#333" textLength="10.87" lengthAdjust="spacingAndGlyphs">1.5</text>
<line x1="320.8" y1="571" x2="320.8" y2="574" stroke="#111" stroke-width="1.2" />
<text x="320.8" y="580.5" font-size="8.5" text-anchor="middle" dominant-baseline="central" fill="#333" color="#333" textLength="4.35" lengthAdjust="spacingAndGlyphs">2</text>
<line x1="333.7" y1="571" x2="333.7" y2="574" stroke="#111" stroke-width="1.2" />
<text x="333.7" y="580.5" font-size="8.5" text-anchor="middle" dominant-baseline="central" fill="#333" color="#333" textLength="4.35" lengthAdjust="spacingAndGlyphs">3</text>
<line x1="345.8" y1="571" x2="345.8" y2="574" stroke="#111" stroke-width="1.2" />
<text x="345.8" y="580.5" font-size="8.5" text-anchor="middle" dominant-baseline="central" fill="#333" color="#333" textLength="4.35" lengthAdjust="spacingAndGlyphs">4</text>
<line x1="358" y1="571" x2="358" y2="574" stroke="#111" stroke-width="1.2" />
<text x="358" y="580.5" font-size="8.5" text-anchor="middle" dominant-baseline="central" fill="#333" color="#333" textLength="4.35" lengthAdjust="spacingAndGlyphs">5</text>
<line x1="370.8" y1="571" x2="370.8" y2="574" stroke="#111" stroke-width="1.2" />
<text x="370.8" y="580.5" font-size="8.5" text-anchor="middle" dominant-baseline="central" fill="#333" color="#333" textLength="4.35" lengthAdjust="spacingAndGlyphs">8</text>
<line x1="383" y1="571" x2="383" y2="574" stroke="#111" stroke-width="1.2" />
<text x="383" y="580.5" font-size="8.5" text-anchor="middle" dominant-baseline="central" fill="#333" color="#333" textLength="8.7" lengthAdjust="spacingAndGlyphs">10</text>
<text x="267" y="536.2" font-size="8.9" text-anchor="middle" dominant-baseline="central" fill="#333" color="#333" textLength="43.3" lengthAdjust="spacingAndGlyphs" transform="rotate(-90 267 536.2)">Hematocrit%</text>
<polyline points="295.8,518 308.7,533.8 320.8,540.4 333.7,542.3 345.8,541.5 358,535.8 366,531.5" fill="none" stroke="#72ac48" stroke-width="1.3" stroke-dasharray="2.6 1.3 0.9 1.3"/>
<polyline points="295.8,521 308.7,537 320.8,552.5 333.7,559.2 345.8,550.6 358,535.8 370.8,526.5 383,524.6" fill="none" stroke="#2a4a7e" stroke-width="1.9"/>
<polyline points="295.8,521 308.7,538 320.8,553 333.7,562.7 345.8,560.8 358,544.8 370.8,532 383,529.4" fill="none" stroke="#a3163c" stroke-width="1.9"/>
<path d="M295.8 516.16L297.5 519.22L294.1 519.22Z" fill="#72ac48"/>
<path d="M308.7 531.96L310.4 535.02L307 535.02Z" fill="#72ac48"/>
<path d="M320.8 538.56L322.5 541.62L319.1 541.62Z" fill="#72ac48"/>
<path d="M333.7 540.46L335.4 543.52L332 543.52Z" fill="#72ac48"/>
<path d="M345.8 539.66L347.5 542.72L344.1 542.72Z" fill="#72ac48"/>
<path d="M358 533.96L359.7 537.02L356.3 537.02Z" fill="#72ac48"/>
<line x1="320.8" y1="535" x2="320.8" y2="546" stroke="#72ac48" stroke-width="0.8" />
<line x1="319.6" y1="535" x2="322" y2="535" stroke="#72ac48" stroke-width="0.7" />
<line x1="319.6" y1="546" x2="322" y2="546" stroke="#72ac48" stroke-width="0.7" />
<circle cx="295.8" cy="521" r="1.7" fill="#2a4a7e"/>
<circle cx="308.7" cy="537" r="1.7" fill="#2a4a7e"/>
<circle cx="320.8" cy="552.5" r="1.7" fill="#2a4a7e"/>
<circle cx="333.7" cy="559.2" r="1.7" fill="#2a4a7e"/>
<circle cx="345.8" cy="550.6" r="1.7" fill="#2a4a7e"/>
<circle cx="358" cy="535.8" r="1.7" fill="#2a4a7e"/>
<circle cx="370.8" cy="526.5" r="1.7" fill="#2a4a7e"/>
<circle cx="383" cy="524.6" r="1.7" fill="#2a4a7e"/>
<circle cx="295.8" cy="521" r="1.7" fill="#a3163c"/>
<circle cx="308.7" cy="538" r="1.7" fill="#a3163c"/>
<circle cx="320.8" cy="553" r="1.7" fill="#a3163c"/>
<circle cx="333.7" cy="562.7" r="1.7" fill="#a3163c"/>
<circle cx="345.8" cy="560.8" r="1.7" fill="#a3163c"/>
<circle cx="358" cy="544.8" r="1.7" fill="#a3163c"/>
<circle cx="370.8" cy="532" r="1.7" fill="#a3163c"/>
<circle cx="383" cy="529.4" r="1.7" fill="#a3163c"/>
<circle cx="341.5" cy="568" r="1.05" fill="#2a2a2a"/>
<circle cx="344.9" cy="568" r="1.05" fill="#2a2a2a"/>
<circle cx="348.3" cy="568" r="1.05" fill="#2a2a2a"/>
<circle cx="351.7" cy="568" r="1.05" fill="#2a2a2a"/>
<circle cx="356.9" cy="552.2" r="1.05" fill="#2a2a2a"/>
<circle cx="360.3" cy="552.2" r="1.05" fill="#2a2a2a"/>
<line x1="309.6" y1="505" x2="316.4" y2="505" stroke="#a3163c" stroke-width="1.8" />
<circle cx="313" cy="505" r="1.6" fill="#a3163c"/>
<text x="319.2" y="505" font-size="8.5" text-anchor="start" dominant-baseline="central" fill="#333" color="#333" textLength="34.6" lengthAdjust="spacingAndGlyphs">Se-D+PBS</text>
<line x1="309.6" y1="513.4" x2="316.4" y2="513.4" stroke="#2a4a7e" stroke-width="1.8" />
<circle cx="313" cy="513.4" r="1.6" fill="#2a4a7e"/>
<text x="319.2" y="513.4" font-size="8.5" text-anchor="start" dominant-baseline="central" fill="#333" color="#333" textLength="58.7" lengthAdjust="spacingAndGlyphs">Se-D+Monocytes</text>
<line x1="309.6" y1="521.3" x2="316.4" y2="521.3" stroke="#72ac48" stroke-width="1.1" stroke-dasharray="1.5 1"/>
<path d="M313 519.57L314.6 522.45L311.4 522.45Z" fill="#72ac48"/>
<text x="319.2" y="521.3" font-size="8.5" text-anchor="start" dominant-baseline="central" fill="#333" color="#333" textLength="34" lengthAdjust="spacingAndGlyphs">Se-A+PBS</text>
<text x="396.3" y="507" font-size="7.6" text-anchor="start" dominant-baseline="central" fill="#9a2455" color="#9a2455" textLength="43.8" lengthAdjust="spacingAndGlyphs">Se-D recipients</text>
<path d="M402.4 517.7 C406.9 516.7 409.4 511.7 414.4 512.2 S417.9 513.7 418.4 515.2" fill="none" stroke="#555" stroke-width="1"/>
<ellipse cx="417.4" cy="524.2" rx="8.4" ry="9.0" fill="#b9b9b9" stroke="#5a5a5a" stroke-width="0.8"/>
<ellipse cx="412.6" cy="525.4" rx="3.4" ry="2.6" fill="#d2d2d2" stroke="#6a6a6a" stroke-width="0.6"/>
<ellipse cx="422.2" cy="525.4" rx="3.4" ry="2.6" fill="#d2d2d2" stroke="#6a6a6a" stroke-width="0.6"/>
<ellipse cx="417.4" cy="529.6" rx="4.6" ry="3.6" fill="#a9a9a9"/>
<circle cx="415.5" cy="530" r="0.85" fill="#1e1e1e"/>
<circle cx="419.3" cy="530" r="0.85" fill="#1e1e1e"/>
<circle cx="417.4" cy="532.8" r="0.75" fill="#333"/>
<line x1="414.8" y1="532.4" x2="411" y2="531.6" stroke="#999" stroke-width="0.45" />
<line x1="414.8" y1="532.7" x2="411.2" y2="534.2" stroke="#999" stroke-width="0.45" />
<line x1="415.2" y1="533" x2="412.8" y2="535.8" stroke="#999" stroke-width="0.45" />
<line x1="420" y1="532.4" x2="423.8" y2="531.6" stroke="#999" stroke-width="0.45" />
<line x1="420" y1="532.7" x2="423.6" y2="534.2" stroke="#999" stroke-width="0.45" />
<line x1="419.6" y1="533" x2="422" y2="535.8" stroke="#999" stroke-width="0.45" />
<text x="431.2" y="523.8" font-size="7.5" text-anchor="start" dominant-baseline="central" fill="#222" color="#222" textLength="23.3" lengthAdjust="spacingAndGlyphs">i.p. PHZ</text>
<line x1="418" y1="538.5" x2="418" y2="545.5" stroke="#222" stroke-width="0.8" />
<path d="M416.4 544.4 L418 547 L419.6 544.4Z" fill="#222"/>
<text x="422.6" y="542.6" font-size="7.5" text-anchor="start" dominant-baseline="central" fill="#222" color="#222" textLength="21.2" lengthAdjust="spacingAndGlyphs">6 hours</text>
<text x="396.3" y="550.8" font-size="7.6" text-anchor="start" dominant-baseline="central" fill="#9a2455" color="#9a2455" textLength="43.8" lengthAdjust="spacingAndGlyphs">Se-D recipients</text>
<path d="M403.2 562.1 C407.7 561.1 410.2 556.1 415.2 556.6 S418.7 558.1 419.2 559.6" fill="none" stroke="#555" stroke-width="1"/>
<ellipse cx="418.2" cy="568.6" rx="8.4" ry="9.0" fill="#b9b9b9" stroke="#5a5a5a" stroke-width="0.8"/>
<ellipse cx="413.4" cy="569.8" rx="3.4" ry="2.6" fill="#d2d2d2" stroke="#6a6a6a" stroke-width="0.6"/>
<ellipse cx="423" cy="569.8" rx="3.4" ry="2.6" fill="#d2d2d2" stroke="#6a6a6a" stroke-width="0.6"/>
<ellipse cx="418.2" cy="574" rx="4.6" ry="3.6" fill="#a9a9a9"/>
<circle cx="416.3" cy="574.4" r="0.85" fill="#1e1e1e"/>
<circle cx="420.1" cy="574.4" r="0.85" fill="#1e1e1e"/>
<circle cx="418.2" cy="577.2" r="0.75" fill="#333"/>
<line x1="415.6" y1="576.8" x2="411.8" y2="576" stroke="#999" stroke-width="0.45" />
<line x1="415.6" y1="577.1" x2="412" y2="578.6" stroke="#999" stroke-width="0.45" />
<line x1="416" y1="577.4" x2="413.6" y2="580.2" stroke="#999" stroke-width="0.45" />
<line x1="420.8" y1="576.8" x2="424.6" y2="576" stroke="#999" stroke-width="0.45" />
<line x1="420.8" y1="577.1" x2="424.4" y2="578.6" stroke="#999" stroke-width="0.45" />
<line x1="420.4" y1="577.4" x2="422.8" y2="580.2" stroke="#999" stroke-width="0.45" />
<text x="431.4" y="565.2" font-size="7.5" text-anchor="start" dominant-baseline="central" fill="#222" color="#222" textLength="44.6" lengthAdjust="spacingAndGlyphs">Transfer 1×10<tspan font-size="4.6" dy="-2.6">6</tspan></text>
<text x="430.2" y="571.6" font-size="7.5" text-anchor="start" dominant-baseline="central" fill="#222" color="#222" textLength="46.2" lengthAdjust="spacingAndGlyphs">Se-A monocytes</text>
<rect x="0" y="0" width="520" height="1.1" fill="#000"/>
<rect x="0" y="0" width="1.1" height="593" fill="#000"/>
<rect x="518.6" y="0" width="1.4" height="593" fill="#000"/>
<rect x="0" y="591.7" width="520" height="1.3" fill="#000"/>
</svg>
</body></html>
